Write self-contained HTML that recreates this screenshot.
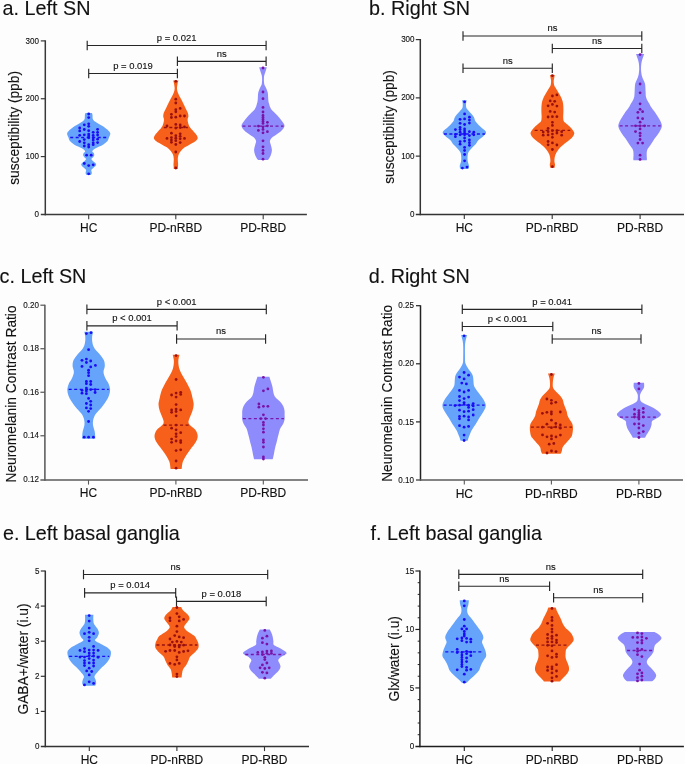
<!DOCTYPE html>
<html><head><meta charset="utf-8"><style>
html,body{margin:0;padding:0;background:#fff;}
body{width:685px;height:764px;overflow:hidden;}
svg{display:block;will-change:transform;}
text{font-family:"Liberation Sans", sans-serif;fill:#111;stroke:#111;stroke-width:0.12px;}
</style></head><body>
<svg width="685" height="764" viewBox="0 0 685 764">
<rect width="685" height="764" fill="#fdfdfd"/>
<text transform="translate(2.6,14.8) scale(0.9650,1)" font-size="20.5" text-anchor="start">a. Left SN</text>
<path d="M45.3,40.3 V215.35" stroke="#383838" stroke-width="1.5" fill="none"/>
<path d="M40.8,214.6 H306.9" stroke="#3a3a3a" stroke-width="1.5" fill="none"/>
<line x1="40.8" y1="40.9" x2="45.3" y2="40.9" stroke="#383838" stroke-width="1.2"/>
<text transform="translate(38.9,43.5) scale(0.8400,1)" font-size="9.6" text-anchor="end">300</text>
<line x1="40.8" y1="98.73" x2="45.3" y2="98.73" stroke="#383838" stroke-width="1.2"/>
<text transform="translate(38.9,101.33) scale(0.8400,1)" font-size="9.6" text-anchor="end">200</text>
<line x1="40.8" y1="156.57" x2="45.3" y2="156.57" stroke="#383838" stroke-width="1.2"/>
<text transform="translate(38.9,159.17) scale(0.8400,1)" font-size="9.6" text-anchor="end">100</text>
<text transform="translate(38.9,217) scale(0.8400,1)" font-size="9.6" text-anchor="end">0</text>
<line x1="88.7" y1="214.6" x2="88.7" y2="219.2" stroke="#3a3a3a" stroke-width="1.1"/>
<text x="88.7" y="231.6" font-size="12" text-anchor="middle">HC</text>
<line x1="175.8" y1="214.6" x2="175.8" y2="219.2" stroke="#3a3a3a" stroke-width="1.1"/>
<text x="175.8" y="231.6" font-size="12" text-anchor="middle">PD-nRBD</text>
<line x1="263.2" y1="214.6" x2="263.2" y2="219.2" stroke="#3a3a3a" stroke-width="1.1"/>
<text x="263.2" y="231.6" font-size="12" text-anchor="middle">PD-RBD</text>
<text transform="translate(19,127.9) rotate(-90) scale(0.9160,1)" font-size="15" text-anchor="middle">susceptibility (ppb)</text>
<path d="M87.2,40.7 V50.3 M87.2,45.5 H266.1 M266.1,40.7 V50.3" stroke="#262626" stroke-width="1.15" fill="none"/>
<text transform="translate(176.65,40.9) scale(0.9840,1)" font-size="9.6" text-anchor="middle">p = 0.021</text>
<path d="M177.4,56.5 V66.1 M177.4,61.3 H266.1 M266.1,56.5 V66.1" stroke="#262626" stroke-width="1.15" fill="none"/>
<text transform="translate(221.75,56.7) scale(0.9840,1)" font-size="9.6" text-anchor="middle">ns</text>
<path d="M88.7,68.7 V78.3 M88.7,73.5 H177.4 M177.4,68.7 V78.3" stroke="#262626" stroke-width="1.15" fill="none"/>
<text transform="translate(133.05,68.9) scale(0.9840,1)" font-size="9.6" text-anchor="middle">p = 0.019</text>
<path d="M85.4,113 L92,113 C92.09,113.38 92.42,114.3 92.55,115.3 C92.68,116.3 92.34,117.93 92.8,119 C93.26,120.07 93.6,120.48 95.3,121.7 C97,122.92 100.77,124.77 103,126.3 C105.23,127.83 107.48,129.67 108.7,130.9 C109.92,132.13 110.25,132.63 110.3,133.7 C110.35,134.77 109.47,136.08 109,137.3 C108.53,138.52 108.5,139.77 107.5,141 C106.5,142.23 104.98,143.48 103,144.7 C101.02,145.92 97.38,147.22 95.6,148.3 C93.82,149.38 92.62,150.42 92.3,151.2 C91.98,151.98 93.37,152.37 93.7,153 C94.03,153.63 94.37,154.33 94.3,155 C94.23,155.67 93.78,156.32 93.3,157 C92.82,157.68 91.47,158.43 91.4,159.1 C91.33,159.77 92.25,160.35 92.9,161 C93.55,161.65 94.75,162.42 95.3,163 C95.85,163.58 96.2,163.95 96.2,164.5 C96.2,165.05 95.88,165.63 95.3,166.3 C94.72,166.97 93.37,167.88 92.7,168.5 C92.03,169.12 91.48,169.45 91.3,170 C91.12,170.55 91.52,171.25 91.6,171.8 C91.68,172.35 91.92,172.78 91.8,173.3 C91.68,173.82 91.05,174.63 90.9,174.9 L86.5,174.9 C86.35,174.63 85.72,173.82 85.6,173.3 C85.48,172.78 85.72,172.35 85.8,171.8 C85.88,171.25 86.28,170.55 86.1,170 C85.92,169.45 85.37,169.12 84.7,168.5 C84.03,167.88 82.68,166.97 82.1,166.3 C81.52,165.63 81.2,165.05 81.2,164.5 C81.2,163.95 81.55,163.58 82.1,163 C82.65,162.42 83.85,161.65 84.5,161 C85.15,160.35 86.07,159.77 86,159.1 C85.93,158.43 84.58,157.68 84.1,157 C83.62,156.32 83.17,155.67 83.1,155 C83.03,154.33 83.37,153.63 83.7,153 C84.03,152.37 85.42,151.98 85.1,151.2 C84.78,150.42 83.58,149.38 81.8,148.3 C80.02,147.22 76.38,145.92 74.4,144.7 C72.42,143.48 70.9,142.23 69.9,141 C68.9,139.77 68.87,138.52 68.4,137.3 C67.93,136.08 67.05,134.77 67.1,133.7 C67.15,132.63 67.48,132.13 68.7,130.9 C69.92,129.67 72.17,127.83 74.4,126.3 C76.63,124.77 80.4,122.92 82.1,121.7 C83.8,120.48 84.14,120.07 84.6,119 C85.06,117.93 84.72,116.3 84.85,115.3 C84.98,114.3 85.31,113.38 85.4,113Z" fill="#66a3fb"/>
<line x1="70.2" y1="137.5" x2="107.2" y2="137.5" stroke="#1a0cf5" stroke-width="1.3" stroke-dasharray="3,2.5"/>
<circle fill="#1a0cf5" cx="88.7" cy="114" r="1.4"/><circle fill="#1a0cf5" cx="88.7" cy="117.6" r="1.4"/><circle fill="#1a0cf5" cx="84.3" cy="124.8" r="1.4"/><circle fill="#1a0cf5" cx="88.7" cy="123.8" r="1.4"/><circle fill="#1a0cf5" cx="88.7" cy="126.3" r="1.4"/><circle fill="#1a0cf5" cx="79.7" cy="128" r="1.4"/><circle fill="#1a0cf5" cx="84.3" cy="129.5" r="1.4"/><circle fill="#1a0cf5" cx="88.7" cy="130.7" r="1.4"/><circle fill="#1a0cf5" cx="97.6" cy="129.3" r="1.4"/><circle fill="#1a0cf5" cx="79.7" cy="130.9" r="1.4"/><circle fill="#1a0cf5" cx="93.2" cy="132.3" r="1.4"/><circle fill="#1a0cf5" cx="97.6" cy="132.3" r="1.4"/><circle fill="#1a0cf5" cx="79.7" cy="135.3" r="1.4"/><circle fill="#1a0cf5" cx="84.3" cy="134.8" r="1.4"/><circle fill="#1a0cf5" cx="88.7" cy="134.1" r="1.4"/><circle fill="#1a0cf5" cx="88.7" cy="136" r="1.4"/><circle fill="#1a0cf5" cx="93.2" cy="135.5" r="1.4"/><circle fill="#1a0cf5" cx="97.6" cy="135" r="1.4"/><circle fill="#1a0cf5" cx="84.3" cy="139.6" r="1.4"/><circle fill="#1a0cf5" cx="88.7" cy="137.8" r="1.4"/><circle fill="#1a0cf5" cx="93.2" cy="137.8" r="1.4"/><circle fill="#1a0cf5" cx="97.6" cy="139.2" r="1.4"/><circle fill="#1a0cf5" cx="79.7" cy="141.5" r="1.4"/><circle fill="#1a0cf5" cx="84.3" cy="142.8" r="1.4"/><circle fill="#1a0cf5" cx="93.2" cy="140.1" r="1.4"/><circle fill="#1a0cf5" cx="93.2" cy="142.8" r="1.4"/><circle fill="#1a0cf5" cx="97.6" cy="142.6" r="1.4"/><circle fill="#1a0cf5" cx="84.3" cy="146" r="1.4"/><circle fill="#1a0cf5" cx="88.7" cy="144.7" r="1.4"/><circle fill="#1a0cf5" cx="88.7" cy="147" r="1.4"/><circle fill="#1a0cf5" cx="93.2" cy="144.7" r="1.4"/><circle fill="#1a0cf5" cx="86.6" cy="155.2" r="1.4"/><circle fill="#1a0cf5" cx="91.2" cy="155.2" r="1.4"/><circle fill="#1a0cf5" cx="84.3" cy="163.5" r="1.4"/><circle fill="#1a0cf5" cx="88.7" cy="165.6" r="1.4"/><circle fill="#1a0cf5" cx="93.2" cy="164.8" r="1.4"/><circle fill="#1a0cf5" cx="88.7" cy="173.8" r="1.4"/>
<path d="M173.2,80.4 L178.4,80.4 C178.27,80.92 177.84,82.13 177.6,83.5 C177.36,84.87 176.93,87.13 176.95,88.6 C176.97,90.07 177.29,91.05 177.7,92.3 C178.11,93.55 178.67,94.63 179.4,96.1 C180.13,97.57 181.13,99.22 182.1,101.1 C183.07,102.98 184.27,105.52 185.2,107.4 C186.13,109.28 187.17,110.93 187.7,112.4 C188.23,113.87 188.42,114.93 188.4,116.2 C188.38,117.47 187.45,118.32 187.6,120 C187.75,121.68 188.33,124.42 189.3,126.3 C190.27,128.18 192.2,129.85 193.4,131.3 C194.6,132.75 195.78,133.85 196.5,135 C197.22,136.15 197.9,137.15 197.7,138.2 C197.5,139.25 196.75,140.15 195.3,141.3 C193.85,142.45 191.1,143.83 189,145.1 C186.9,146.37 184.38,147.43 182.7,148.9 C181.02,150.37 179.72,152.23 178.9,153.9 C178.08,155.57 177.93,157.23 177.8,158.9 C177.67,160.57 178.1,162.22 178.1,163.9 C178.1,165.58 177.85,168.15 177.8,169 L173.8,169 C173.75,168.15 173.5,165.58 173.5,163.9 C173.5,162.22 173.93,160.57 173.8,158.9 C173.67,157.23 173.52,155.57 172.7,153.9 C171.88,152.23 170.58,150.37 168.9,148.9 C167.22,147.43 164.7,146.37 162.6,145.1 C160.5,143.83 157.75,142.45 156.3,141.3 C154.85,140.15 154.1,139.25 153.9,138.2 C153.7,137.15 154.38,136.15 155.1,135 C155.82,133.85 157,132.75 158.2,131.3 C159.4,129.85 161.33,128.18 162.3,126.3 C163.27,124.42 163.85,121.68 164,120 C164.15,118.32 163.22,117.47 163.2,116.2 C163.18,114.93 163.37,113.87 163.9,112.4 C164.43,110.93 165.47,109.28 166.4,107.4 C167.33,105.52 168.53,102.98 169.5,101.1 C170.47,99.22 171.47,97.57 172.2,96.1 C172.93,94.63 173.49,93.55 173.9,92.3 C174.31,91.05 174.63,90.07 174.65,88.6 C174.67,87.13 174.24,84.87 174,83.5 C173.76,82.13 173.33,80.92 173.2,80.4Z" fill="#f7601a"/>
<line x1="163.8" y1="127.5" x2="187.8" y2="127.5" stroke="#981010" stroke-width="1.3" stroke-dasharray="3,2.5"/>
<circle fill="#9a1010" cx="175.8" cy="81.3" r="1.4"/><circle fill="#9a1010" cx="175.8" cy="99.2" r="1.4"/><circle fill="#9a1010" cx="175.8" cy="103" r="1.4"/><circle fill="#9a1010" cx="180.2" cy="108.4" r="1.4"/><circle fill="#9a1010" cx="175.8" cy="109.7" r="1.4"/><circle fill="#9a1010" cx="175.8" cy="111.8" r="1.4"/><circle fill="#9a1010" cx="171.4" cy="114.3" r="1.4"/><circle fill="#9a1010" cx="180.2" cy="116" r="1.4"/><circle fill="#9a1010" cx="184.5" cy="116" r="1.4"/><circle fill="#9a1010" cx="171.4" cy="117.5" r="1.4"/><circle fill="#9a1010" cx="175.8" cy="117.2" r="1.4"/><circle fill="#9a1010" cx="175.8" cy="124.4" r="1.4"/><circle fill="#9a1010" cx="167" cy="126" r="1.4"/><circle fill="#9a1010" cx="180.2" cy="125" r="1.4"/><circle fill="#9a1010" cx="180.2" cy="127.5" r="1.4"/><circle fill="#9a1010" cx="184.5" cy="126.9" r="1.4"/><circle fill="#9a1010" cx="175.8" cy="128.1" r="1.4"/><circle fill="#9a1010" cx="171.4" cy="133.2" r="1.4"/><circle fill="#9a1010" cx="180.2" cy="133.8" r="1.4"/><circle fill="#9a1010" cx="167" cy="138.4" r="1.4"/><circle fill="#9a1010" cx="171.4" cy="137.6" r="1.4"/><circle fill="#9a1010" cx="171.4" cy="140.1" r="1.4"/><circle fill="#9a1010" cx="171.4" cy="142.3" r="1.4"/><circle fill="#9a1010" cx="175.8" cy="135.7" r="1.4"/><circle fill="#9a1010" cx="175.8" cy="138.2" r="1.4"/><circle fill="#9a1010" cx="175.8" cy="140.7" r="1.4"/><circle fill="#9a1010" cx="175.8" cy="144.5" r="1.4"/><circle fill="#9a1010" cx="180.2" cy="136.3" r="1.4"/><circle fill="#9a1010" cx="180.2" cy="138.8" r="1.4"/><circle fill="#9a1010" cx="180.2" cy="142.6" r="1.4"/><circle fill="#9a1010" cx="184.5" cy="138.4" r="1.4"/><circle fill="#9a1010" cx="175.8" cy="152" r="1.4"/><circle fill="#9a1010" cx="175.8" cy="168" r="1.4"/>
<path d="M259.2,67.3 L266.8,67.3 C266.6,67.97 266.03,69.93 265.6,71.3 C265.17,72.67 264.48,74.22 264.2,75.5 C263.92,76.78 263.93,77.92 263.9,79 C263.87,80.08 263.92,81.03 264,82 C264.08,82.97 264.18,84.05 264.4,84.8 C264.62,85.55 264.93,85.77 265.3,86.5 C265.67,87.23 266.18,88.17 266.6,89.2 C267.02,90.23 267.55,91.48 267.8,92.7 C268.05,93.92 268.02,95.28 268.1,96.5 C268.18,97.72 268.15,98.82 268.3,100 C268.45,101.18 268.52,102.07 269,103.6 C269.48,105.13 269.8,107.23 271.2,109.2 C272.6,111.17 275.65,113.48 277.4,115.4 C279.15,117.32 280.52,118.92 281.7,120.7 C282.88,122.48 284.67,124.32 284.5,126.1 C284.33,127.88 282.62,129.62 280.7,131.4 C278.78,133.18 274.78,135.23 273,136.8 C271.22,138.37 270.37,139.47 270,140.8 C269.63,142.13 270.48,143.25 270.8,144.8 C271.12,146.35 271.92,148.32 271.9,150.1 C271.88,151.88 271.35,153.83 270.7,155.5 C270.05,157.17 268.45,159.33 268,160.1 L258,160.1 C257.55,159.33 255.95,157.17 255.3,155.5 C254.65,153.83 254.12,151.88 254.1,150.1 C254.08,148.32 254.88,146.35 255.2,144.8 C255.52,143.25 256.37,142.13 256,140.8 C255.63,139.47 254.78,138.37 253,136.8 C251.22,135.23 247.22,133.18 245.3,131.4 C243.38,129.62 241.67,127.88 241.5,126.1 C241.33,124.32 243.12,122.48 244.3,120.7 C245.48,118.92 246.85,117.32 248.6,115.4 C250.35,113.48 253.4,111.17 254.8,109.2 C256.2,107.23 256.52,105.13 257,103.6 C257.48,102.07 257.55,101.18 257.7,100 C257.85,98.82 257.82,97.72 257.9,96.5 C257.98,95.28 257.95,93.92 258.2,92.7 C258.45,91.48 258.98,90.23 259.4,89.2 C259.82,88.17 260.33,87.23 260.7,86.5 C261.07,85.77 261.38,85.55 261.6,84.8 C261.82,84.05 261.92,82.97 262,82 C262.08,81.03 262.13,80.08 262.1,79 C262.07,77.92 262.08,76.78 261.8,75.5 C261.52,74.22 260.83,72.67 260.4,71.3 C259.97,69.93 259.4,67.97 259.2,67.3Z" fill="#8e8cfc"/>
<line x1="242.5" y1="126.1" x2="283.5" y2="126.1" stroke="#7a14aa" stroke-width="1.3" stroke-dasharray="3,2.5"/>
<circle fill="#7a12a8" cx="263" cy="68" r="1.4"/><circle fill="#7a12a8" cx="263" cy="92" r="1.4"/><circle fill="#7a12a8" cx="263" cy="98.7" r="1.4"/><circle fill="#7a12a8" cx="263" cy="107.4" r="1.4"/><circle fill="#7a12a8" cx="263" cy="112" r="1.4"/><circle fill="#7a12a8" cx="263" cy="115.4" r="1.4"/><circle fill="#7a12a8" cx="263" cy="117.4" r="1.4"/><circle fill="#7a12a8" cx="263" cy="119.4" r="1.4"/><circle fill="#7a12a8" cx="263" cy="121.4" r="1.4"/><circle fill="#7a12a8" cx="263" cy="123.4" r="1.4"/><circle fill="#7a12a8" cx="267.4" cy="122.3" r="1.4"/><circle fill="#7a12a8" cx="258.4" cy="126.1" r="1.4"/><circle fill="#7a12a8" cx="263" cy="126.8" r="1.4"/><circle fill="#7a12a8" cx="267.4" cy="125.8" r="1.4"/><circle fill="#7a12a8" cx="258.4" cy="130.4" r="1.4"/><circle fill="#7a12a8" cx="263" cy="129.4" r="1.4"/><circle fill="#7a12a8" cx="263" cy="132.8" r="1.4"/><circle fill="#7a12a8" cx="267.4" cy="131.7" r="1.4"/><circle fill="#7a12a8" cx="263" cy="140.8" r="1.4"/><circle fill="#7a12a8" cx="263" cy="146.8" r="1.4"/><circle fill="#7a12a8" cx="263" cy="150.4" r="1.4"/><circle fill="#7a12a8" cx="263" cy="153.5" r="1.4"/><circle fill="#7a12a8" cx="263" cy="159.2" r="1.4"/>
<text transform="translate(369,14.8) scale(0.9650,1)" font-size="20.5" text-anchor="start">b. Right SN</text>
<path d="M420.3,39 V215.25" stroke="#333" stroke-width="1.5" fill="none"/>
<path d="M415.8,214.5 H684" stroke="#333" stroke-width="1.5" fill="none"/>
<line x1="415.8" y1="39.6" x2="420.3" y2="39.6" stroke="#333" stroke-width="1.2"/>
<text transform="translate(414.6,42.2) scale(0.8400,1)" font-size="9.6" text-anchor="end">300</text>
<line x1="415.8" y1="97.87" x2="420.3" y2="97.87" stroke="#333" stroke-width="1.2"/>
<text transform="translate(414.6,100.47) scale(0.8400,1)" font-size="9.6" text-anchor="end">200</text>
<line x1="415.8" y1="156.13" x2="420.3" y2="156.13" stroke="#333" stroke-width="1.2"/>
<text transform="translate(414.6,158.73) scale(0.8400,1)" font-size="9.6" text-anchor="end">100</text>
<text transform="translate(414.6,217) scale(0.8400,1)" font-size="9.6" text-anchor="end">0</text>
<line x1="464.3" y1="214.5" x2="464.3" y2="219.1" stroke="#333" stroke-width="1.1"/>
<text x="464.3" y="231.6" font-size="12" text-anchor="middle">HC</text>
<line x1="552.2" y1="214.5" x2="552.2" y2="219.1" stroke="#333" stroke-width="1.1"/>
<text x="552.2" y="231.6" font-size="12" text-anchor="middle">PD-nRBD</text>
<line x1="640.1" y1="214.5" x2="640.1" y2="219.1" stroke="#333" stroke-width="1.1"/>
<text x="640.1" y="231.6" font-size="12" text-anchor="middle">PD-RBD</text>
<text transform="translate(394,127) rotate(-90) scale(0.9160,1)" font-size="15" text-anchor="middle">susceptibility (ppb)</text>
<path d="M463,31.2 V40.8 M463,36 H641.8 M641.8,31.2 V40.8" stroke="#262626" stroke-width="1.15" fill="none"/>
<text transform="translate(552.4,31.4) scale(0.9840,1)" font-size="9.6" text-anchor="middle">ns</text>
<path d="M552.3,43.7 V53.3 M552.3,48.5 H641.8 M641.8,43.7 V53.3" stroke="#262626" stroke-width="1.15" fill="none"/>
<text transform="translate(597.05,43.9) scale(0.9840,1)" font-size="9.6" text-anchor="middle">ns</text>
<path d="M463,63.4 V73 M463,68.2 H552.3 M552.3,63.4 V73" stroke="#262626" stroke-width="1.15" fill="none"/>
<text transform="translate(507.65,63.6) scale(0.9840,1)" font-size="9.6" text-anchor="middle">ns</text>
<path d="M462.1,100.2 L466.7,100.2 C466.58,100.9 466,103 466,104.4 C466,105.8 465.97,107.2 466.7,108.6 C467.43,110 469.22,111.4 470.4,112.8 C471.58,114.2 472.97,115.6 473.8,117 C474.63,118.4 474.52,119.8 475.4,121.2 C476.28,122.6 477.7,124 479.1,125.4 C480.5,126.8 482.63,128.38 483.8,129.6 C484.97,130.82 486.13,131.65 486.1,132.7 C486.07,133.75 484.85,134.68 483.6,135.9 C482.35,137.12 479.93,138.62 478.6,140 C477.27,141.38 476.8,142.8 475.6,144.2 C474.4,145.6 472.62,147 471.4,148.4 C470.18,149.8 468.95,151.02 468.3,152.6 C467.65,154.18 467.57,156.32 467.5,157.9 C467.43,159.48 467.63,160.72 467.9,162.1 C468.17,163.48 469.02,165.07 469.1,166.2 C469.18,167.33 468.52,168.45 468.4,168.9 L460.4,168.9 C460.28,168.45 459.62,167.33 459.7,166.2 C459.78,165.07 460.63,163.48 460.9,162.1 C461.17,160.72 461.37,159.48 461.3,157.9 C461.23,156.32 461.15,154.18 460.5,152.6 C459.85,151.02 458.62,149.8 457.4,148.4 C456.18,147 454.4,145.6 453.2,144.2 C452,142.8 451.53,141.38 450.2,140 C448.87,138.62 446.45,137.12 445.2,135.9 C443.95,134.68 442.73,133.75 442.7,132.7 C442.67,131.65 443.83,130.82 445,129.6 C446.17,128.38 448.3,126.8 449.7,125.4 C451.1,124 452.52,122.6 453.4,121.2 C454.28,119.8 454.17,118.4 455,117 C455.83,115.6 457.22,114.2 458.4,112.8 C459.58,111.4 461.37,110 462.1,108.6 C462.83,107.2 462.8,105.8 462.8,104.4 C462.8,103 462.22,100.9 462.1,100.2Z" fill="#66a3fb"/>
<line x1="443.9" y1="134" x2="484.9" y2="134" stroke="#1a0cf5" stroke-width="1.3" stroke-dasharray="3,2.5"/>
<circle fill="#1a0cf5" cx="464.6" cy="101.8" r="1.4"/><circle fill="#1a0cf5" cx="464.6" cy="113.9" r="1.4"/><circle fill="#1a0cf5" cx="460.1" cy="119.3" r="1.4"/><circle fill="#1a0cf5" cx="464.6" cy="118.9" r="1.4"/><circle fill="#1a0cf5" cx="469.4" cy="117.2" r="1.4"/><circle fill="#1a0cf5" cx="469.4" cy="120.1" r="1.4"/><circle fill="#1a0cf5" cx="469.4" cy="123.1" r="1.4"/><circle fill="#1a0cf5" cx="460.1" cy="123.3" r="1.4"/><circle fill="#1a0cf5" cx="464.6" cy="124.5" r="1.4"/><circle fill="#1a0cf5" cx="455.4" cy="129.6" r="1.4"/><circle fill="#1a0cf5" cx="460.1" cy="127.5" r="1.4"/><circle fill="#1a0cf5" cx="460.1" cy="129.6" r="1.4"/><circle fill="#1a0cf5" cx="464.6" cy="129" r="1.4"/><circle fill="#1a0cf5" cx="464.6" cy="131.1" r="1.4"/><circle fill="#1a0cf5" cx="455.4" cy="134.3" r="1.4"/><circle fill="#1a0cf5" cx="455.4" cy="136.7" r="1.4"/><circle fill="#1a0cf5" cx="460.1" cy="132.2" r="1.4"/><circle fill="#1a0cf5" cx="460.1" cy="134.8" r="1.4"/><circle fill="#1a0cf5" cx="464.6" cy="133.2" r="1.4"/><circle fill="#1a0cf5" cx="464.6" cy="134.8" r="1.4"/><circle fill="#1a0cf5" cx="469.4" cy="131.7" r="1.4"/><circle fill="#1a0cf5" cx="469.4" cy="135.6" r="1.4"/><circle fill="#1a0cf5" cx="473.8" cy="132.2" r="1.4"/><circle fill="#1a0cf5" cx="473.8" cy="134.8" r="1.4"/><circle fill="#1a0cf5" cx="464.6" cy="138" r="1.4"/><circle fill="#1a0cf5" cx="464.6" cy="141.1" r="1.4"/><circle fill="#1a0cf5" cx="460.1" cy="141.6" r="1.4"/><circle fill="#1a0cf5" cx="460.1" cy="144.2" r="1.4"/><circle fill="#1a0cf5" cx="469.4" cy="140" r="1.4"/><circle fill="#1a0cf5" cx="469.4" cy="142.7" r="1.4"/><circle fill="#1a0cf5" cx="469.4" cy="145.3" r="1.4"/><circle fill="#1a0cf5" cx="464.6" cy="147.4" r="1.4"/><circle fill="#1a0cf5" cx="464.6" cy="150.5" r="1.4"/><circle fill="#1a0cf5" cx="464.6" cy="154.5" r="1.4"/><circle fill="#1a0cf5" cx="464.6" cy="160.8" r="1.4"/><circle fill="#1a0cf5" cx="462.4" cy="168.1" r="1.4"/><circle fill="#1a0cf5" cx="467" cy="167.1" r="1.4"/>
<path d="M550,75 L554.8,75 C554.7,75.5 554.38,77.03 554.2,78 C554.02,78.97 553.75,79.8 553.7,80.8 C553.65,81.8 553.73,83.03 553.9,84 C554.07,84.97 554.2,85.6 554.7,86.6 C555.2,87.6 556.13,88.78 556.9,90 C557.67,91.22 558.58,92.67 559.3,93.9 C560.02,95.13 560.65,96.18 561.2,97.4 C561.75,98.62 562.27,99.97 562.6,101.2 C562.93,102.43 563.07,103.58 563.2,104.8 C563.33,106.02 563.37,107.3 563.4,108.5 C563.43,109.7 563.43,110.78 563.4,112 C563.37,113.22 563.22,114.63 563.2,115.8 C563.18,116.97 563.17,118.03 563.3,119 C563.43,119.97 563.38,120.72 564,121.6 C564.62,122.48 566.02,123.43 567,124.3 C567.98,125.17 568.83,125.68 569.9,126.8 C570.97,127.92 572.68,129.83 573.4,131 C574.12,132.17 574.48,132.63 574.2,133.8 C573.92,134.97 573.28,136.37 571.7,138 C570.12,139.63 566.87,141.73 564.7,143.6 C562.53,145.47 560.25,147.33 558.7,149.2 C557.15,151.07 556.12,152.93 555.4,154.8 C554.68,156.67 554.47,158.77 554.4,160.4 C554.33,162.03 554.97,163.38 555,164.6 C555.03,165.82 554.67,167.18 554.6,167.7 L550.2,167.7 C550.13,167.18 549.77,165.82 549.8,164.6 C549.83,163.38 550.47,162.03 550.4,160.4 C550.33,158.77 550.12,156.67 549.4,154.8 C548.68,152.93 547.65,151.07 546.1,149.2 C544.55,147.33 542.27,145.47 540.1,143.6 C537.93,141.73 534.68,139.63 533.1,138 C531.52,136.37 530.88,134.97 530.6,133.8 C530.32,132.63 530.68,132.17 531.4,131 C532.12,129.83 533.83,127.92 534.9,126.8 C535.97,125.68 536.82,125.17 537.8,124.3 C538.78,123.43 540.18,122.48 540.8,121.6 C541.42,120.72 541.37,119.97 541.5,119 C541.63,118.03 541.62,116.97 541.6,115.8 C541.58,114.63 541.43,113.22 541.4,112 C541.37,110.78 541.37,109.7 541.4,108.5 C541.43,107.3 541.47,106.02 541.6,104.8 C541.73,103.58 541.87,102.43 542.2,101.2 C542.53,99.97 543.05,98.62 543.6,97.4 C544.15,96.18 544.78,95.13 545.5,93.9 C546.22,92.67 547.13,91.22 547.9,90 C548.67,88.78 549.6,87.6 550.1,86.6 C550.6,85.6 550.73,84.97 550.9,84 C551.07,83.03 551.15,81.8 551.1,80.8 C551.05,79.8 550.78,78.97 550.6,78 C550.42,77.03 550.1,75.5 550,75Z" fill="#f7601a"/>
<line x1="534.6" y1="130.3" x2="570.2" y2="130.3" stroke="#981010" stroke-width="1.3" stroke-dasharray="3,2.5"/>
<circle fill="#9a1010" cx="552.4" cy="75.7" r="1.4"/><circle fill="#9a1010" cx="552.4" cy="96" r="1.4"/><circle fill="#9a1010" cx="556.9" cy="94.9" r="1.4"/><circle fill="#9a1010" cx="550.2" cy="100.9" r="1.4"/><circle fill="#9a1010" cx="554.7" cy="101.3" r="1.4"/><circle fill="#9a1010" cx="552.4" cy="104.4" r="1.4"/><circle fill="#9a1010" cx="548.1" cy="105.8" r="1.4"/><circle fill="#9a1010" cx="556.9" cy="106.1" r="1.4"/><circle fill="#9a1010" cx="550.2" cy="111.4" r="1.4"/><circle fill="#9a1010" cx="554.7" cy="112.1" r="1.4"/><circle fill="#9a1010" cx="548.1" cy="117" r="1.4"/><circle fill="#9a1010" cx="552.4" cy="116.7" r="1.4"/><circle fill="#9a1010" cx="556.9" cy="116.7" r="1.4"/><circle fill="#9a1010" cx="552.4" cy="122.3" r="1.4"/><circle fill="#9a1010" cx="552.4" cy="125.4" r="1.4"/><circle fill="#9a1010" cx="548.1" cy="128.5" r="1.4"/><circle fill="#9a1010" cx="543.2" cy="132.1" r="1.4"/><circle fill="#9a1010" cx="543.2" cy="135.2" r="1.4"/><circle fill="#9a1010" cx="548.1" cy="131.7" r="1.4"/><circle fill="#9a1010" cx="548.1" cy="134.9" r="1.4"/><circle fill="#9a1010" cx="552.4" cy="130.7" r="1.4"/><circle fill="#9a1010" cx="552.4" cy="134.1" r="1.4"/><circle fill="#9a1010" cx="556.9" cy="130.7" r="1.4"/><circle fill="#9a1010" cx="556.9" cy="133.1" r="1.4"/><circle fill="#9a1010" cx="561.7" cy="131.7" r="1.4"/><circle fill="#9a1010" cx="561.7" cy="135.2" r="1.4"/><circle fill="#9a1010" cx="552.4" cy="137.3" r="1.4"/><circle fill="#9a1010" cx="548.1" cy="141.5" r="1.4"/><circle fill="#9a1010" cx="548.1" cy="144.8" r="1.4"/><circle fill="#9a1010" cx="552.4" cy="142.9" r="1.4"/><circle fill="#9a1010" cx="556.9" cy="145" r="1.4"/><circle fill="#9a1010" cx="552.4" cy="149.5" r="1.4"/><circle fill="#9a1010" cx="552.4" cy="166.7" r="1.4"/>
<path d="M636,53.9 L644.2,53.9 C643.93,54.68 643.07,57.08 642.6,58.6 C642.13,60.12 641.67,61.35 641.4,63 C641.13,64.65 641.02,66.88 641,68.5 C640.98,70.12 641.15,71.45 641.3,72.7 C641.45,73.95 641.62,74.95 641.9,76 C642.18,77.05 642.58,78 643,79 C643.42,80 644.03,81 644.4,82 C644.77,83 645,83.32 645.2,85 C645.4,86.68 645.48,90.18 645.6,92.1 C645.72,94.02 645.65,95.18 645.9,96.5 C646.15,97.82 646.55,98.83 647.1,100 C647.65,101.17 648.5,102.28 649.2,103.5 C649.9,104.72 650.2,105.63 651.3,107.3 C652.4,108.97 654.4,111.42 655.8,113.5 C657.2,115.58 658.68,117.7 659.7,119.8 C660.72,121.9 662,124 661.9,126.1 C661.8,128.2 660.33,130.3 659.1,132.4 C657.87,134.5 655.93,136.6 654.5,138.7 C653.07,140.8 651.7,143.17 650.5,145 C649.3,146.83 647.93,148.13 647.3,149.7 C646.67,151.27 646.77,152.83 646.7,154.4 C646.63,155.97 646.9,158.12 646.9,159.1 C646.9,160.08 646.73,160.1 646.7,160.3 L633.5,160.3 C633.47,160.1 633.3,160.08 633.3,159.1 C633.3,158.12 633.57,155.97 633.5,154.4 C633.43,152.83 633.53,151.27 632.9,149.7 C632.27,148.13 630.9,146.83 629.7,145 C628.5,143.17 627.13,140.8 625.7,138.7 C624.27,136.6 622.33,134.5 621.1,132.4 C619.87,130.3 618.4,128.2 618.3,126.1 C618.2,124 619.48,121.9 620.5,119.8 C621.52,117.7 623,115.58 624.4,113.5 C625.8,111.42 627.8,108.97 628.9,107.3 C630,105.63 630.3,104.72 631,103.5 C631.7,102.28 632.55,101.17 633.1,100 C633.65,98.83 634.05,97.82 634.3,96.5 C634.55,95.18 634.48,94.02 634.6,92.1 C634.72,90.18 634.8,86.68 635,85 C635.2,83.32 635.43,83 635.8,82 C636.17,81 636.78,80 637.2,79 C637.62,78 638.02,77.05 638.3,76 C638.58,74.95 638.75,73.95 638.9,72.7 C639.05,71.45 639.22,70.12 639.2,68.5 C639.18,66.88 639.07,64.65 638.8,63 C638.53,61.35 638.07,60.12 637.6,58.6 C637.13,57.08 636.27,54.68 636,53.9Z" fill="#8e8cfc"/>
<line x1="619.6" y1="125.8" x2="660.6" y2="125.8" stroke="#7a14aa" stroke-width="1.3" stroke-dasharray="3,2.5"/>
<circle fill="#7a12a8" cx="640.1" cy="54.6" r="1.4"/><circle fill="#7a12a8" cx="640.1" cy="84" r="1.4"/><circle fill="#7a12a8" cx="640.1" cy="92.8" r="1.4"/><circle fill="#7a12a8" cx="640.1" cy="103.8" r="1.4"/><circle fill="#7a12a8" cx="640.1" cy="109.3" r="1.4"/><circle fill="#7a12a8" cx="637.9" cy="112.3" r="1.4"/><circle fill="#7a12a8" cx="642.6" cy="111.7" r="1.4"/><circle fill="#7a12a8" cx="637.9" cy="117.9" r="1.4"/><circle fill="#7a12a8" cx="642.6" cy="118.7" r="1.4"/><circle fill="#7a12a8" cx="640.1" cy="122.2" r="1.4"/><circle fill="#7a12a8" cx="635.5" cy="125.8" r="1.4"/><circle fill="#7a12a8" cx="640.1" cy="125.8" r="1.4"/><circle fill="#7a12a8" cx="644.6" cy="125.8" r="1.4"/><circle fill="#7a12a8" cx="640.1" cy="128.9" r="1.4"/><circle fill="#7a12a8" cx="635.5" cy="131.6" r="1.4"/><circle fill="#7a12a8" cx="640.1" cy="133.2" r="1.4"/><circle fill="#7a12a8" cx="640.1" cy="135.8" r="1.4"/><circle fill="#7a12a8" cx="640.1" cy="139.5" r="1.4"/><circle fill="#7a12a8" cx="637.9" cy="143.1" r="1.4"/><circle fill="#7a12a8" cx="642.6" cy="143.1" r="1.4"/><circle fill="#7a12a8" cx="640.1" cy="155.2" r="1.4"/><circle fill="#7a12a8" cx="640.1" cy="159.4" r="1.4"/>
<text transform="translate(-0.4,282.9) scale(0.9650,1)" font-size="20.5" text-anchor="start">c. Left SN</text>
<path d="M44.9,304.8 V480.75" stroke="#555" stroke-width="1.5" fill="none"/>
<path d="M40.4,480 H308" stroke="#5a5a5a" stroke-width="1.5" fill="none"/>
<line x1="40.4" y1="305.2" x2="44.9" y2="305.2" stroke="#555" stroke-width="1.2"/>
<text transform="translate(38.9,307.8) scale(0.8400,1)" font-size="9.6" text-anchor="end">0.20</text>
<line x1="40.4" y1="348.73" x2="44.9" y2="348.73" stroke="#555" stroke-width="1.2"/>
<text transform="translate(38.9,351.33) scale(0.8400,1)" font-size="9.6" text-anchor="end">0.18</text>
<line x1="40.4" y1="392.25" x2="44.9" y2="392.25" stroke="#555" stroke-width="1.2"/>
<text transform="translate(38.9,394.85) scale(0.8400,1)" font-size="9.6" text-anchor="end">0.16</text>
<line x1="40.4" y1="435.77" x2="44.9" y2="435.77" stroke="#555" stroke-width="1.2"/>
<text transform="translate(38.9,438.38) scale(0.8400,1)" font-size="9.6" text-anchor="end">0.14</text>
<text transform="translate(38.9,481.9) scale(0.8400,1)" font-size="9.6" text-anchor="end">0.12</text>
<line x1="88.5" y1="480" x2="88.5" y2="484.6" stroke="#5a5a5a" stroke-width="1.1"/>
<text x="88.5" y="497" font-size="12" text-anchor="middle">HC</text>
<line x1="175.9" y1="480" x2="175.9" y2="484.6" stroke="#5a5a5a" stroke-width="1.1"/>
<text x="175.9" y="497" font-size="12" text-anchor="middle">PD-nRBD</text>
<line x1="263.3" y1="480" x2="263.3" y2="484.6" stroke="#5a5a5a" stroke-width="1.1"/>
<text x="263.3" y="497" font-size="12" text-anchor="middle">PD-RBD</text>
<text transform="translate(16.2,394) rotate(-90) scale(0.9160,1)" font-size="15" text-anchor="middle">Neuromelanin Contrast Ratio</text>
<path d="M86.9,304.6 V314.2 M86.9,309.4 H266.3 M266.3,304.6 V314.2" stroke="#262626" stroke-width="1.15" fill="none"/>
<text transform="translate(176.6,304.8) scale(0.9840,1)" font-size="9.6" text-anchor="middle">p &lt; 0.001</text>
<path d="M86.9,321 V330.6 M86.9,325.8 H177.1 M177.1,321 V330.6" stroke="#262626" stroke-width="1.15" fill="none"/>
<text transform="translate(132,321.2) scale(0.9840,1)" font-size="9.6" text-anchor="middle">p &lt; 0.001</text>
<path d="M176.6,334.2 V343.8 M176.6,339 H265.6 M265.6,334.2 V343.8" stroke="#262626" stroke-width="1.15" fill="none"/>
<text transform="translate(221.1,334.4) scale(0.9840,1)" font-size="9.6" text-anchor="middle">ns</text>
<path d="M84.3,331.7 L93.1,331.7 C92.93,332.55 92.22,334.97 92.1,336.8 C91.98,338.63 91.98,340.75 92.4,342.7 C92.82,344.65 93.35,346.55 94.6,348.5 C95.85,350.45 98.35,352.43 99.9,354.4 C101.45,356.37 103.08,358.35 103.9,360.3 C104.72,362.25 104.87,364.15 104.8,366.1 C104.73,368.05 103.42,370.03 103.5,372 C103.58,373.97 104.45,375.95 105.3,377.9 C106.15,379.85 107.8,381.75 108.6,383.7 C109.4,385.65 110.03,387.65 110.1,389.6 C110.17,391.55 109.68,393.45 109,395.4 C108.32,397.35 107.22,399.33 106,401.3 C104.78,403.27 103.28,405.25 101.7,407.2 C100.12,409.15 97.77,411.38 96.5,413 C95.23,414.62 94.67,415.65 94.1,416.9 C93.53,418.15 93.3,419.28 93.1,420.5 C92.9,421.72 92.8,422.95 92.9,424.2 C93,425.45 93.4,426.78 93.7,428 C94,429.22 94.45,430.08 94.7,431.5 C94.95,432.92 95.12,435.3 95.2,436.5 C95.28,437.7 95.2,438.33 95.2,438.7 L82.2,438.7 C82.2,438.33 82.12,437.7 82.2,436.5 C82.28,435.3 82.45,432.92 82.7,431.5 C82.95,430.08 83.4,429.22 83.7,428 C84,426.78 84.4,425.45 84.5,424.2 C84.6,422.95 84.5,421.72 84.3,420.5 C84.1,419.28 83.87,418.15 83.3,416.9 C82.73,415.65 82.17,414.62 80.9,413 C79.63,411.38 77.28,409.15 75.7,407.2 C74.12,405.25 72.62,403.27 71.4,401.3 C70.18,399.33 69.08,397.35 68.4,395.4 C67.72,393.45 67.23,391.55 67.3,389.6 C67.37,387.65 68,385.65 68.8,383.7 C69.6,381.75 71.25,379.85 72.1,377.9 C72.95,375.95 73.82,373.97 73.9,372 C73.98,370.03 72.67,368.05 72.6,366.1 C72.53,364.15 72.68,362.25 73.5,360.3 C74.32,358.35 75.95,356.37 77.5,354.4 C79.05,352.43 81.55,350.45 82.8,348.5 C84.05,346.55 84.58,344.65 85,342.7 C85.42,340.75 85.42,338.63 85.3,336.8 C85.18,334.97 84.47,332.55 84.3,331.7Z" fill="#66a3fb"/>
<line x1="68.7" y1="389.3" x2="108.7" y2="389.3" stroke="#1a0cf5" stroke-width="1.3" stroke-dasharray="3,2.5"/>
<circle fill="#1a0cf5" cx="86.4" cy="333.6" r="1.4"/><circle fill="#1a0cf5" cx="91" cy="332.7" r="1.4"/><circle fill="#1a0cf5" cx="88.6" cy="349.7" r="1.4"/><circle fill="#1a0cf5" cx="82" cy="360.3" r="1.4"/><circle fill="#1a0cf5" cx="86.4" cy="359.1" r="1.4"/><circle fill="#1a0cf5" cx="86.4" cy="362.5" r="1.4"/><circle fill="#1a0cf5" cx="90.7" cy="361" r="1.4"/><circle fill="#1a0cf5" cx="82" cy="366.4" r="1.4"/><circle fill="#1a0cf5" cx="90.7" cy="366.9" r="1.4"/><circle fill="#1a0cf5" cx="95.4" cy="365.4" r="1.4"/><circle fill="#1a0cf5" cx="88.6" cy="370.2" r="1.4"/><circle fill="#1a0cf5" cx="88.6" cy="372.7" r="1.4"/><circle fill="#1a0cf5" cx="88.6" cy="375.7" r="1.4"/><circle fill="#1a0cf5" cx="86.4" cy="381.5" r="1.4"/><circle fill="#1a0cf5" cx="90.7" cy="381.5" r="1.4"/><circle fill="#1a0cf5" cx="86.4" cy="383.7" r="1.4"/><circle fill="#1a0cf5" cx="90.7" cy="384.5" r="1.4"/><circle fill="#1a0cf5" cx="82" cy="390.3" r="1.4"/><circle fill="#1a0cf5" cx="82" cy="393.2" r="1.4"/><circle fill="#1a0cf5" cx="86.4" cy="388.1" r="1.4"/><circle fill="#1a0cf5" cx="86.4" cy="391" r="1.4"/><circle fill="#1a0cf5" cx="86.4" cy="393.7" r="1.4"/><circle fill="#1a0cf5" cx="90.7" cy="389.6" r="1.4"/><circle fill="#1a0cf5" cx="95.1" cy="389.6" r="1.4"/><circle fill="#1a0cf5" cx="95.1" cy="392.5" r="1.4"/><circle fill="#1a0cf5" cx="88.6" cy="398.4" r="1.4"/><circle fill="#1a0cf5" cx="86.4" cy="403.5" r="1.4"/><circle fill="#1a0cf5" cx="90.7" cy="401.3" r="1.4"/><circle fill="#1a0cf5" cx="90.7" cy="405" r="1.4"/><circle fill="#1a0cf5" cx="86.4" cy="407.9" r="1.4"/><circle fill="#1a0cf5" cx="90.7" cy="408.6" r="1.4"/><circle fill="#1a0cf5" cx="88.6" cy="411.3" r="1.4"/><circle fill="#1a0cf5" cx="88.6" cy="421.5" r="1.4"/><circle fill="#1a0cf5" cx="84.2" cy="437.2" r="1.4"/><circle fill="#1a0cf5" cx="88.6" cy="437.2" r="1.4"/><circle fill="#1a0cf5" cx="93.4" cy="437.2" r="1.4"/>
<path d="M172.7,354.8 L179.5,354.8 C179.3,355.87 178.3,358.8 178.3,361.2 C178.3,363.6 178.65,366.55 179.5,369.2 C180.35,371.85 182,374.45 183.4,377.1 C184.8,379.75 186.65,382.7 187.9,385.1 C189.15,387.5 190.13,389.37 190.9,391.5 C191.67,393.63 192.03,395.77 192.5,397.9 C192.97,400.03 193.7,402.17 193.7,404.3 C193.7,406.43 193.12,408.57 192.5,410.7 C191.88,412.83 190.63,414.97 190,417.1 C189.37,419.23 187.82,421.38 188.7,423.5 C189.58,425.62 193.8,427.68 195.3,429.8 C196.8,431.92 197.67,434.07 197.7,436.2 C197.73,438.33 196.67,440.47 195.5,442.6 C194.33,444.73 192.27,446.87 190.7,449 C189.13,451.13 187.42,453.27 186.1,455.4 C184.78,457.53 183.53,459.67 182.8,461.8 C182.07,463.93 181.92,467 181.7,468.2 C181.48,469.4 181.53,468.87 181.5,469 L170.7,469 C170.67,468.87 170.72,469.4 170.5,468.2 C170.28,467 170.13,463.93 169.4,461.8 C168.67,459.67 167.42,457.53 166.1,455.4 C164.78,453.27 163.07,451.13 161.5,449 C159.93,446.87 157.87,444.73 156.7,442.6 C155.53,440.47 154.47,438.33 154.5,436.2 C154.53,434.07 155.4,431.92 156.9,429.8 C158.4,427.68 162.62,425.62 163.5,423.5 C164.38,421.38 162.83,419.23 162.2,417.1 C161.57,414.97 160.32,412.83 159.7,410.7 C159.08,408.57 158.5,406.43 158.5,404.3 C158.5,402.17 159.23,400.03 159.7,397.9 C160.17,395.77 160.53,393.63 161.3,391.5 C162.07,389.37 163.05,387.5 164.3,385.1 C165.55,382.7 167.4,379.75 168.8,377.1 C170.2,374.45 171.85,371.85 172.7,369.2 C173.55,366.55 173.9,363.6 173.9,361.2 C173.9,358.8 172.9,355.87 172.7,354.8Z" fill="#f7601a"/>
<line x1="163.6" y1="425.1" x2="188.6" y2="425.1" stroke="#981010" stroke-width="1.3" stroke-dasharray="3,2.5"/>
<circle fill="#9a1010" cx="176.1" cy="355.6" r="1.4"/><circle fill="#9a1010" cx="176.1" cy="379.5" r="1.4"/><circle fill="#9a1010" cx="171.6" cy="395" r="1.4"/><circle fill="#9a1010" cx="176.1" cy="393.1" r="1.4"/><circle fill="#9a1010" cx="176.1" cy="397.1" r="1.4"/><circle fill="#9a1010" cx="180.7" cy="392.3" r="1.4"/><circle fill="#9a1010" cx="180.7" cy="394.4" r="1.4"/><circle fill="#9a1010" cx="176.1" cy="404.6" r="1.4"/><circle fill="#9a1010" cx="171.6" cy="409.9" r="1.4"/><circle fill="#9a1010" cx="171.6" cy="412.3" r="1.4"/><circle fill="#9a1010" cx="176.1" cy="409.1" r="1.4"/><circle fill="#9a1010" cx="176.1" cy="411.5" r="1.4"/><circle fill="#9a1010" cx="180.7" cy="409.9" r="1.4"/><circle fill="#9a1010" cx="176.1" cy="415.8" r="1.4"/><circle fill="#9a1010" cx="176.1" cy="425.1" r="1.4"/><circle fill="#9a1010" cx="171.6" cy="428.2" r="1.4"/><circle fill="#9a1010" cx="176.1" cy="429.8" r="1.4"/><circle fill="#9a1010" cx="180.7" cy="432.7" r="1.4"/><circle fill="#9a1010" cx="176.1" cy="433.8" r="1.4"/><circle fill="#9a1010" cx="176.1" cy="436.6" r="1.4"/><circle fill="#9a1010" cx="171.6" cy="439.1" r="1.4"/><circle fill="#9a1010" cx="171.6" cy="442.3" r="1.4"/><circle fill="#9a1010" cx="176.1" cy="441" r="1.4"/><circle fill="#9a1010" cx="180.7" cy="440.7" r="1.4"/><circle fill="#9a1010" cx="180.7" cy="442.6" r="1.4"/><circle fill="#9a1010" cx="176.1" cy="450.6" r="1.4"/><circle fill="#9a1010" cx="180.7" cy="449.8" r="1.4"/><circle fill="#9a1010" cx="176.1" cy="461" r="1.4"/><circle fill="#9a1010" cx="176.1" cy="468.2" r="1.4"/>
<path d="M257.4,376.8 L269.4,376.8 C269.63,377.55 270.28,379.62 270.8,381.3 C271.32,382.98 272.07,385.03 272.5,386.9 C272.93,388.77 272.95,390.82 273.4,392.5 C273.85,394.18 274.1,395.5 275.2,397 C276.3,398.5 278.67,400 280,401.5 C281.33,403 282.45,404.5 283.2,406 C283.95,407.5 284.27,409 284.5,410.5 C284.73,412 284.58,413.5 284.6,415 C284.62,416.5 284.85,417.98 284.6,419.5 C284.35,421.02 283.82,422.58 283.1,424.1 C282.38,425.62 281.05,426.92 280.3,428.6 C279.55,430.28 279.07,432.55 278.6,434.2 C278.13,435.85 277.85,437.08 277.5,438.5 C277.15,439.92 276.87,441.3 276.5,442.7 C276.13,444.1 275.65,445.48 275.3,446.9 C274.95,448.32 274.68,449.78 274.4,451.2 C274.12,452.62 273.88,454.07 273.6,455.4 C273.32,456.73 272.85,458.57 272.7,459.2 L254.1,459.2 C253.95,458.57 253.48,456.73 253.2,455.4 C252.92,454.07 252.68,452.62 252.4,451.2 C252.12,449.78 251.85,448.32 251.5,446.9 C251.15,445.48 250.67,444.1 250.3,442.7 C249.93,441.3 249.65,439.92 249.3,438.5 C248.95,437.08 248.67,435.85 248.2,434.2 C247.73,432.55 247.25,430.28 246.5,428.6 C245.75,426.92 244.42,425.62 243.7,424.1 C242.98,422.58 242.45,421.02 242.2,419.5 C241.95,417.98 242.18,416.5 242.2,415 C242.22,413.5 242.07,412 242.3,410.5 C242.53,409 242.85,407.5 243.6,406 C244.35,404.5 245.47,403 246.8,401.5 C248.13,400 250.5,398.5 251.6,397 C252.7,395.5 252.95,394.18 253.4,392.5 C253.85,390.82 253.87,388.77 254.3,386.9 C254.73,385.03 255.48,382.98 256,381.3 C256.52,379.62 257.17,377.55 257.4,376.8Z" fill="#8e8cfc"/>
<line x1="242.9" y1="418.6" x2="283.9" y2="418.6" stroke="#7a14aa" stroke-width="1.3" stroke-dasharray="3,2.5"/>
<circle fill="#7a12a8" cx="263.4" cy="377.3" r="1.4"/><circle fill="#7a12a8" cx="263.4" cy="390.8" r="1.4"/><circle fill="#7a12a8" cx="267.9" cy="388.9" r="1.4"/><circle fill="#7a12a8" cx="258.9" cy="404" r="1.4"/><circle fill="#7a12a8" cx="258.9" cy="407.2" r="1.4"/><circle fill="#7a12a8" cx="263.4" cy="406.3" r="1.4"/><circle fill="#7a12a8" cx="267.9" cy="406.3" r="1.4"/><circle fill="#7a12a8" cx="263.4" cy="414.8" r="1.4"/><circle fill="#7a12a8" cx="260.8" cy="418.6" r="1.4"/><circle fill="#7a12a8" cx="265.5" cy="418.6" r="1.4"/><circle fill="#7a12a8" cx="263.4" cy="422.4" r="1.4"/><circle fill="#7a12a8" cx="263.4" cy="425" r="1.4"/><circle fill="#7a12a8" cx="263.4" cy="428.8" r="1.4"/><circle fill="#7a12a8" cx="263.4" cy="432.2" r="1.4"/><circle fill="#7a12a8" cx="263.4" cy="440" r="1.4"/><circle fill="#7a12a8" cx="263.4" cy="442.3" r="1.4"/><circle fill="#7a12a8" cx="263.4" cy="447" r="1.4"/><circle fill="#7a12a8" cx="263.4" cy="456.9" r="1.4"/><circle fill="#7a12a8" cx="263.4" cy="459" r="1.4"/>
<text transform="translate(368.7,282.9) scale(0.9650,1)" font-size="20.5" text-anchor="start">d. Right SN</text>
<path d="M420.5,305.3 V480.75" stroke="#222" stroke-width="1.5" fill="none"/>
<path d="M416,480 H683" stroke="#5a5a5a" stroke-width="1.5" fill="none"/>
<line x1="416" y1="305.7" x2="420.5" y2="305.7" stroke="#222" stroke-width="1.2"/>
<text transform="translate(413.9,308.3) scale(0.8400,1)" font-size="9.6" text-anchor="end">0.25</text>
<line x1="416" y1="363.8" x2="420.5" y2="363.8" stroke="#222" stroke-width="1.2"/>
<text transform="translate(413.9,366.4) scale(0.8400,1)" font-size="9.6" text-anchor="end">0.20</text>
<line x1="416" y1="421.9" x2="420.5" y2="421.9" stroke="#222" stroke-width="1.2"/>
<text transform="translate(413.9,424.5) scale(0.8400,1)" font-size="9.6" text-anchor="end">0.15</text>
<text transform="translate(413.9,482.6) scale(0.8400,1)" font-size="9.6" text-anchor="end">0.10</text>
<line x1="464.3" y1="480" x2="464.3" y2="484.6" stroke="#5a5a5a" stroke-width="1.1"/>
<text x="464.3" y="497.5" font-size="12" text-anchor="middle">HC</text>
<line x1="551.4" y1="480" x2="551.4" y2="484.6" stroke="#5a5a5a" stroke-width="1.1"/>
<text x="551.4" y="497.5" font-size="12" text-anchor="middle">PD-nRBD</text>
<line x1="638.9" y1="480" x2="638.9" y2="484.6" stroke="#5a5a5a" stroke-width="1.1"/>
<text x="638.9" y="497.5" font-size="12" text-anchor="middle">PD-RBD</text>
<text transform="translate(392.1,393.3) rotate(-90) scale(0.9160,1)" font-size="15" text-anchor="middle">Neuromelanin Contrast Ratio</text>
<path d="M462.3,304.5 V314.1 M462.3,309.3 H641.9 M641.9,304.5 V314.1" stroke="#262626" stroke-width="1.15" fill="none"/>
<text transform="translate(552.1,304.7) scale(0.9840,1)" font-size="9.6" text-anchor="middle">p = 0.041</text>
<path d="M462.3,321.7 V331.3 M462.3,326.5 H552.8 M552.8,321.7 V331.3" stroke="#262626" stroke-width="1.15" fill="none"/>
<text transform="translate(507.55,321.9) scale(0.9840,1)" font-size="9.6" text-anchor="middle">p &lt; 0.001</text>
<path d="M552.2,334.2 V343.8 M552.2,339 H641 M641,334.2 V343.8" stroke="#262626" stroke-width="1.15" fill="none"/>
<text transform="translate(596.6,334.4) scale(0.9840,1)" font-size="9.6" text-anchor="middle">ns</text>
<path d="M461.2,334.9 L467,334.9 C466.9,335.33 466.63,336.55 466.4,337.5 C466.17,338.45 465.82,339.52 465.6,340.6 C465.38,341.68 465.21,342.73 465.1,344 C464.99,345.27 464.98,346.7 464.95,348.2 C464.93,349.7 464.94,351.48 464.95,353 C464.96,354.52 464.98,355.9 465,357.3 C465.02,358.7 465.02,360.38 465.1,361.4 C465.18,362.42 465.28,362.72 465.5,363.4 C465.72,364.08 466.03,364.78 466.4,365.5 C466.77,366.22 467.03,366.68 467.7,367.7 C468.37,368.72 469.63,370.47 470.4,371.6 C471.17,372.73 471.85,373.58 472.3,374.5 C472.75,375.42 472.9,375.92 473.1,377.1 C473.3,378.28 473.38,380.28 473.5,381.6 C473.62,382.92 473.5,383.9 473.8,385 C474.1,386.1 474.38,386.73 475.3,388.2 C476.22,389.67 477.92,391.87 479.3,393.8 C480.68,395.73 482.52,397.78 483.6,399.8 C484.68,401.82 485.87,403.87 485.8,405.9 C485.73,407.93 484.28,409.97 483.2,412 C482.12,414.03 480.53,416.08 479.3,418.1 C478.07,420.12 477.07,422.08 475.8,424.1 C474.53,426.12 472.82,428.17 471.7,430.2 C470.58,432.23 469.78,434.53 469.1,436.3 C468.42,438.07 467.85,440.05 467.6,440.8 L460.6,440.8 C460.35,440.05 459.78,438.07 459.1,436.3 C458.42,434.53 457.62,432.23 456.5,430.2 C455.38,428.17 453.67,426.12 452.4,424.1 C451.13,422.08 450.13,420.12 448.9,418.1 C447.67,416.08 446.08,414.03 445,412 C443.92,409.97 442.47,407.93 442.4,405.9 C442.33,403.87 443.52,401.82 444.6,399.8 C445.68,397.78 447.52,395.73 448.9,393.8 C450.28,391.87 451.98,389.67 452.9,388.2 C453.82,386.73 454.1,386.1 454.4,385 C454.7,383.9 454.58,382.92 454.7,381.6 C454.82,380.28 454.9,378.28 455.1,377.1 C455.3,375.92 455.45,375.42 455.9,374.5 C456.35,373.58 457.03,372.73 457.8,371.6 C458.57,370.47 459.83,368.72 460.5,367.7 C461.17,366.68 461.43,366.22 461.8,365.5 C462.17,364.78 462.48,364.08 462.7,363.4 C462.92,362.72 463.02,362.42 463.1,361.4 C463.18,360.38 463.18,358.7 463.2,357.3 C463.23,355.9 463.24,354.52 463.25,353 C463.26,351.48 463.27,349.7 463.25,348.2 C463.23,346.7 463.21,345.27 463.1,344 C462.99,342.73 462.82,341.68 462.6,340.6 C462.38,339.52 462.03,338.45 461.8,337.5 C461.57,336.55 461.3,335.33 461.2,334.9Z" fill="#66a3fb"/>
<line x1="443.6" y1="405.2" x2="484.6" y2="405.2" stroke="#1a0cf5" stroke-width="1.3" stroke-dasharray="3,2.5"/>
<circle fill="#1a0cf5" cx="464.1" cy="335.8" r="1.4"/><circle fill="#1a0cf5" cx="464.1" cy="372.5" r="1.4"/><circle fill="#1a0cf5" cx="459.5" cy="377.1" r="1.4"/><circle fill="#1a0cf5" cx="468.6" cy="375.2" r="1.4"/><circle fill="#1a0cf5" cx="464.1" cy="378.9" r="1.4"/><circle fill="#1a0cf5" cx="461.8" cy="383.1" r="1.4"/><circle fill="#1a0cf5" cx="466.4" cy="383.9" r="1.4"/><circle fill="#1a0cf5" cx="459.5" cy="390.4" r="1.4"/><circle fill="#1a0cf5" cx="464.1" cy="392" r="1.4"/><circle fill="#1a0cf5" cx="468.6" cy="390.4" r="1.4"/><circle fill="#1a0cf5" cx="459.5" cy="396.5" r="1.4"/><circle fill="#1a0cf5" cx="464.1" cy="398.6" r="1.4"/><circle fill="#1a0cf5" cx="468.6" cy="397.1" r="1.4"/><circle fill="#1a0cf5" cx="459.5" cy="400.6" r="1.4"/><circle fill="#1a0cf5" cx="464.1" cy="402.6" r="1.4"/><circle fill="#1a0cf5" cx="455" cy="405.6" r="1.4"/><circle fill="#1a0cf5" cx="459.5" cy="405.2" r="1.4"/><circle fill="#1a0cf5" cx="468.6" cy="405.2" r="1.4"/><circle fill="#1a0cf5" cx="468.6" cy="407.4" r="1.4"/><circle fill="#1a0cf5" cx="473.2" cy="403.6" r="1.4"/><circle fill="#1a0cf5" cx="473.2" cy="405.9" r="1.4"/><circle fill="#1a0cf5" cx="473.2" cy="409.7" r="1.4"/><circle fill="#1a0cf5" cx="464.1" cy="404.4" r="1.4"/><circle fill="#1a0cf5" cx="459.5" cy="410.2" r="1.4"/><circle fill="#1a0cf5" cx="464.1" cy="411.7" r="1.4"/><circle fill="#1a0cf5" cx="468.6" cy="411.2" r="1.4"/><circle fill="#1a0cf5" cx="473.2" cy="415" r="1.4"/><circle fill="#1a0cf5" cx="459.5" cy="416.5" r="1.4"/><circle fill="#1a0cf5" cx="459.5" cy="418.8" r="1.4"/><circle fill="#1a0cf5" cx="464.1" cy="416.2" r="1.4"/><circle fill="#1a0cf5" cx="468.6" cy="416.9" r="1.4"/><circle fill="#1a0cf5" cx="468.6" cy="419.9" r="1.4"/><circle fill="#1a0cf5" cx="459.5" cy="425.7" r="1.4"/><circle fill="#1a0cf5" cx="464.1" cy="427.2" r="1.4"/><circle fill="#1a0cf5" cx="468.6" cy="426.4" r="1.4"/><circle fill="#1a0cf5" cx="464.1" cy="435.1" r="1.4"/><circle fill="#1a0cf5" cx="464.1" cy="440.5" r="1.4"/>
<path d="M548,373.5 L554.8,373.5 C554.57,374.25 553.73,376.43 553.4,378 C553.07,379.57 552.83,381.25 552.8,382.9 C552.77,384.55 552.6,386.4 553.2,387.9 C553.8,389.4 555.2,390.57 556.4,391.9 C557.6,393.23 559.33,394.58 560.4,395.9 C561.47,397.22 562.23,398.48 562.8,399.8 C563.37,401.12 563.38,402.47 563.8,403.8 C564.22,405.13 564.8,406.47 565.3,407.8 C565.8,409.13 566.42,410.47 566.8,411.8 C567.18,413.13 567.1,414.48 567.6,415.8 C568.1,417.12 569.02,418.38 569.8,419.7 C570.58,421.02 571.77,422.37 572.3,423.7 C572.83,425.03 572.93,426.37 573,427.7 C573.07,429.03 572.88,430.37 572.7,431.7 C572.52,433.03 572.35,434.57 571.9,435.7 C571.45,436.83 570.92,437.33 570,438.5 C569.08,439.67 567.6,441.3 566.4,442.7 C565.2,444.1 563.57,445.48 562.8,446.9 C562.03,448.32 562.15,450.07 561.8,451.2 C561.45,452.33 560.88,453.28 560.7,453.7 L542.1,453.7 C541.92,453.28 541.35,452.33 541,451.2 C540.65,450.07 540.77,448.32 540,446.9 C539.23,445.48 537.6,444.1 536.4,442.7 C535.2,441.3 533.72,439.67 532.8,438.5 C531.88,437.33 531.35,436.83 530.9,435.7 C530.45,434.57 530.28,433.03 530.1,431.7 C529.92,430.37 529.73,429.03 529.8,427.7 C529.87,426.37 529.97,425.03 530.5,423.7 C531.03,422.37 532.22,421.02 533,419.7 C533.78,418.38 534.7,417.12 535.2,415.8 C535.7,414.48 535.62,413.13 536,411.8 C536.38,410.47 537,409.13 537.5,407.8 C538,406.47 538.58,405.13 539,403.8 C539.42,402.47 539.43,401.12 540,399.8 C540.57,398.48 541.33,397.22 542.4,395.9 C543.47,394.58 545.2,393.23 546.4,391.9 C547.6,390.57 549,389.4 549.6,387.9 C550.2,386.4 550.03,384.55 550,382.9 C549.97,381.25 549.73,379.57 549.4,378 C549.07,376.43 548.23,374.25 548,373.5Z" fill="#f7601a"/>
<line x1="530.9" y1="427.2" x2="571.9" y2="427.2" stroke="#981010" stroke-width="1.3" stroke-dasharray="3,2.5"/>
<circle fill="#9a1010" cx="551.4" cy="374.5" r="1.4"/><circle fill="#9a1010" cx="546.9" cy="399" r="1.4"/><circle fill="#9a1010" cx="551.4" cy="400.3" r="1.4"/><circle fill="#9a1010" cx="551.4" cy="403.3" r="1.4"/><circle fill="#9a1010" cx="555.8" cy="402.3" r="1.4"/><circle fill="#9a1010" cx="542.4" cy="413.3" r="1.4"/><circle fill="#9a1010" cx="546.9" cy="412.3" r="1.4"/><circle fill="#9a1010" cx="551.4" cy="411.8" r="1.4"/><circle fill="#9a1010" cx="551.4" cy="414" r="1.4"/><circle fill="#9a1010" cx="560.3" cy="412" r="1.4"/><circle fill="#9a1010" cx="551.4" cy="420.2" r="1.4"/><circle fill="#9a1010" cx="546.9" cy="424.2" r="1.4"/><circle fill="#9a1010" cx="555.8" cy="423.5" r="1.4"/><circle fill="#9a1010" cx="560.3" cy="424.9" r="1.4"/><circle fill="#9a1010" cx="542.4" cy="427.2" r="1.4"/><circle fill="#9a1010" cx="551.4" cy="427.7" r="1.4"/><circle fill="#9a1010" cx="555.8" cy="426.9" r="1.4"/><circle fill="#9a1010" cx="560.3" cy="428.2" r="1.4"/><circle fill="#9a1010" cx="542.5" cy="434.9" r="1.4"/><circle fill="#9a1010" cx="547" cy="436.8" r="1.4"/><circle fill="#9a1010" cx="551.5" cy="435.9" r="1.4"/><circle fill="#9a1010" cx="551.5" cy="438.9" r="1.4"/><circle fill="#9a1010" cx="556" cy="436.9" r="1.4"/><circle fill="#9a1010" cx="560.4" cy="435.1" r="1.4"/><circle fill="#9a1010" cx="549.2" cy="444.2" r="1.4"/><circle fill="#9a1010" cx="553.8" cy="443.5" r="1.4"/><circle fill="#9a1010" cx="547" cy="453" r="1.4"/><circle fill="#9a1010" cx="551.5" cy="451" r="1.4"/><circle fill="#9a1010" cx="556" cy="451.6" r="1.4"/>
<path d="M633.8,382.8 L644,382.8 C644.02,383.48 644.4,385.6 644.1,386.9 C643.8,388.2 642.85,389.38 642.2,390.6 C641.55,391.82 640.57,392.98 640.2,394.2 C639.83,395.42 639.85,396.67 640,397.9 C640.15,399.13 640.18,400.53 641.1,401.6 C642.02,402.67 643.42,403.23 645.5,404.3 C647.58,405.37 651.38,406.77 653.6,408 C655.82,409.23 657.58,410.63 658.8,411.7 C660.02,412.77 660.93,413.48 660.9,414.4 C660.87,415.32 660.02,416.13 658.6,417.2 C657.18,418.27 653.57,419.58 652.4,420.8 C651.23,422.02 651.92,423.27 651.6,424.5 C651.28,425.73 651.02,426.98 650.5,428.2 C649.98,429.42 649.22,430.58 648.5,431.8 C647.78,433.02 646.8,434.5 646.2,435.5 C645.6,436.5 645.12,437.42 644.9,437.8 L632.9,437.8 C632.68,437.42 632.2,436.5 631.6,435.5 C631,434.5 630.02,433.02 629.3,431.8 C628.58,430.58 627.82,429.42 627.3,428.2 C626.78,426.98 626.52,425.73 626.2,424.5 C625.88,423.27 626.57,422.02 625.4,420.8 C624.23,419.58 620.62,418.27 619.2,417.2 C617.78,416.13 616.93,415.32 616.9,414.4 C616.87,413.48 617.78,412.77 619,411.7 C620.22,410.63 621.98,409.23 624.2,408 C626.42,406.77 630.22,405.37 632.3,404.3 C634.38,403.23 635.78,402.67 636.7,401.6 C637.62,400.53 637.65,399.13 637.8,397.9 C637.95,396.67 637.97,395.42 637.6,394.2 C637.23,392.98 636.25,391.82 635.6,390.6 C634.95,389.38 634,388.2 633.7,386.9 C633.4,385.6 633.78,383.48 633.8,382.8Z" fill="#8e8cfc"/>
<line x1="619.9" y1="417.2" x2="657.9" y2="417.2" stroke="#7a14aa" stroke-width="1.3" stroke-dasharray="3,2.5"/>
<circle fill="#7a12a8" cx="638.9" cy="383.4" r="1.4"/><circle fill="#7a12a8" cx="638.9" cy="388.9" r="1.4"/><circle fill="#7a12a8" cx="634.5" cy="409.4" r="1.4"/><circle fill="#7a12a8" cx="638.9" cy="410.6" r="1.4"/><circle fill="#7a12a8" cx="643.3" cy="408.5" r="1.4"/><circle fill="#7a12a8" cx="643.3" cy="412.4" r="1.4"/><circle fill="#7a12a8" cx="634.5" cy="414.2" r="1.4"/><circle fill="#7a12a8" cx="638.9" cy="412.6" r="1.4"/><circle fill="#7a12a8" cx="638.9" cy="414.4" r="1.4"/><circle fill="#7a12a8" cx="638.9" cy="416.1" r="1.4"/><circle fill="#7a12a8" cx="634.5" cy="417" r="1.4"/><circle fill="#7a12a8" cx="638.9" cy="417.6" r="1.4"/><circle fill="#7a12a8" cx="638.9" cy="419" r="1.4"/><circle fill="#7a12a8" cx="643.3" cy="417" r="1.4"/><circle fill="#7a12a8" cx="634.5" cy="424" r="1.4"/><circle fill="#7a12a8" cx="638.9" cy="423.8" r="1.4"/><circle fill="#7a12a8" cx="643.3" cy="425.6" r="1.4"/><circle fill="#7a12a8" cx="638.9" cy="428" r="1.4"/><circle fill="#7a12a8" cx="643.3" cy="431.6" r="1.4"/><circle fill="#7a12a8" cx="638.9" cy="433.2" r="1.4"/><circle fill="#7a12a8" cx="638.9" cy="437.5" r="1.4"/>
<text transform="translate(2.9,540.1) scale(0.9650,1)" font-size="20.5" text-anchor="start">e. Left basal ganglia</text>
<path d="M45.3,570.6 V747.25" stroke="#333" stroke-width="1.5" fill="none"/>
<path d="M40.8,746.5 H309" stroke="#333" stroke-width="1.5" fill="none"/>
<line x1="40.8" y1="571" x2="45.3" y2="571" stroke="#333" stroke-width="1.2"/>
<text transform="translate(39.4,573.6) scale(0.8400,1)" font-size="9.6" text-anchor="end">5</text>
<line x1="40.8" y1="606.1" x2="45.3" y2="606.1" stroke="#333" stroke-width="1.2"/>
<text transform="translate(39.4,608.7) scale(0.8400,1)" font-size="9.6" text-anchor="end">4</text>
<line x1="40.8" y1="641.2" x2="45.3" y2="641.2" stroke="#333" stroke-width="1.2"/>
<text transform="translate(39.4,643.8) scale(0.8400,1)" font-size="9.6" text-anchor="end">3</text>
<line x1="40.8" y1="676.3" x2="45.3" y2="676.3" stroke="#333" stroke-width="1.2"/>
<text transform="translate(39.4,678.9) scale(0.8400,1)" font-size="9.6" text-anchor="end">2</text>
<line x1="40.8" y1="711.4" x2="45.3" y2="711.4" stroke="#333" stroke-width="1.2"/>
<text transform="translate(39.4,714) scale(0.8400,1)" font-size="9.6" text-anchor="end">1</text>
<text transform="translate(39.4,749.1) scale(0.8400,1)" font-size="9.6" text-anchor="end">0</text>
<line x1="89.3" y1="746.5" x2="89.3" y2="751.1" stroke="#333" stroke-width="1.1"/>
<text x="89.3" y="764.2" font-size="12" text-anchor="middle">HC</text>
<line x1="176.9" y1="746.5" x2="176.9" y2="751.1" stroke="#333" stroke-width="1.1"/>
<text x="176.9" y="764.2" font-size="12" text-anchor="middle">PD-nRBD</text>
<line x1="264.5" y1="746.5" x2="264.5" y2="751.1" stroke="#333" stroke-width="1.1"/>
<text x="264.5" y="764.2" font-size="12" text-anchor="middle">PD-RBD</text>
<text transform="translate(28.2,659) rotate(-90) scale(0.9160,1)" font-size="15" text-anchor="middle">GABA+/water (i.u)</text>
<path d="M83.5,569.7 V579.3 M83.5,574.5 H267.7 M267.7,569.7 V579.3" stroke="#262626" stroke-width="1.15" fill="none"/>
<text transform="translate(175.6,569.9) scale(0.9840,1)" font-size="9.6" text-anchor="middle">ns</text>
<path d="M84.6,588.1 V597.7 M84.6,592.9 H175.7 M175.7,588.1 V597.7" stroke="#262626" stroke-width="1.15" fill="none"/>
<text transform="translate(130.15,588.3) scale(0.9840,1)" font-size="9.6" text-anchor="middle">p = 0.014</text>
<path d="M176.5,596.6 V606.2 M176.5,601.4 H266.2 M266.2,596.6 V606.2" stroke="#262626" stroke-width="1.15" fill="none"/>
<text transform="translate(221.35,596.8) scale(0.9840,1)" font-size="9.6" text-anchor="middle">p = 0.018</text>
<path d="M85,614.8 L93.4,614.8 C93.38,615.58 93.2,617.98 93.3,619.5 C93.4,621.02 93.33,622.42 94,623.9 C94.67,625.38 96.48,626.92 97.3,628.4 C98.12,629.88 98.9,631.32 98.9,632.8 C98.9,634.28 97.95,636 97.3,637.3 C96.65,638.6 94.4,639.5 95,640.6 C95.6,641.7 98.9,642.78 100.9,643.9 C102.9,645.02 105.42,646.18 107,647.3 C108.58,648.42 109.75,649.48 110.4,650.6 C111.05,651.72 111.03,652.7 110.9,654 C110.77,655.3 110.33,656.92 109.6,658.4 C108.87,659.88 107.77,661.42 106.5,662.9 C105.23,664.38 103.45,665.82 102,667.3 C100.55,668.78 99.05,670.32 97.8,671.8 C96.55,673.28 94.88,674.92 94.5,676.2 C94.12,677.48 95.22,678.38 95.5,679.5 C95.78,680.62 96.25,681.87 96.2,682.9 C96.15,683.93 95.37,685.23 95.2,685.7 L83.2,685.7 C83.03,685.23 82.25,683.93 82.2,682.9 C82.15,681.87 82.62,680.62 82.9,679.5 C83.18,678.38 84.28,677.48 83.9,676.2 C83.52,674.92 81.85,673.28 80.6,671.8 C79.35,670.32 77.85,668.78 76.4,667.3 C74.95,665.82 73.17,664.38 71.9,662.9 C70.63,661.42 69.53,659.88 68.8,658.4 C68.07,656.92 67.63,655.3 67.5,654 C67.37,652.7 67.35,651.72 68,650.6 C68.65,649.48 69.82,648.42 71.4,647.3 C72.98,646.18 75.5,645.02 77.5,643.9 C79.5,642.78 82.8,641.7 83.4,640.6 C84,639.5 81.75,638.6 81.1,637.3 C80.45,636 79.5,634.28 79.5,632.8 C79.5,631.32 80.28,629.88 81.1,628.4 C81.92,626.92 83.73,625.38 84.4,623.9 C85.07,622.42 85,621.02 85.1,619.5 C85.2,617.98 85.02,615.58 85,614.8Z" fill="#66a3fb"/>
<line x1="69.2" y1="656.4" x2="109.2" y2="656.4" stroke="#1a0cf5" stroke-width="1.3" stroke-dasharray="3,2.5"/>
<circle fill="#1a0cf5" cx="89.2" cy="615.6" r="1.4"/><circle fill="#1a0cf5" cx="89.2" cy="621.1" r="1.4"/><circle fill="#1a0cf5" cx="89.2" cy="628.1" r="1.4"/><circle fill="#1a0cf5" cx="84.5" cy="633.7" r="1.4"/><circle fill="#1a0cf5" cx="89.2" cy="632.3" r="1.4"/><circle fill="#1a0cf5" cx="93.6" cy="633.7" r="1.4"/><circle fill="#1a0cf5" cx="89.2" cy="637.3" r="1.4"/><circle fill="#1a0cf5" cx="89.2" cy="640.8" r="1.4"/><circle fill="#1a0cf5" cx="93.6" cy="646.4" r="1.4"/><circle fill="#1a0cf5" cx="80" cy="650.4" r="1.4"/><circle fill="#1a0cf5" cx="84.5" cy="648.6" r="1.4"/><circle fill="#1a0cf5" cx="84.5" cy="651.7" r="1.4"/><circle fill="#1a0cf5" cx="89.2" cy="650.1" r="1.4"/><circle fill="#1a0cf5" cx="89.2" cy="653.1" r="1.4"/><circle fill="#1a0cf5" cx="93.6" cy="650.1" r="1.4"/><circle fill="#1a0cf5" cx="93.6" cy="653.1" r="1.4"/><circle fill="#1a0cf5" cx="98.1" cy="650.4" r="1.4"/><circle fill="#1a0cf5" cx="80" cy="657.1" r="1.4"/><circle fill="#1a0cf5" cx="84.5" cy="657.1" r="1.4"/><circle fill="#1a0cf5" cx="89.2" cy="655.6" r="1.4"/><circle fill="#1a0cf5" cx="89.2" cy="658.6" r="1.4"/><circle fill="#1a0cf5" cx="93.6" cy="656" r="1.4"/><circle fill="#1a0cf5" cx="98.1" cy="657.3" r="1.4"/><circle fill="#1a0cf5" cx="84.5" cy="660.6" r="1.4"/><circle fill="#1a0cf5" cx="84.5" cy="663.1" r="1.4"/><circle fill="#1a0cf5" cx="84.5" cy="665.6" r="1.4"/><circle fill="#1a0cf5" cx="89.2" cy="662.9" r="1.4"/><circle fill="#1a0cf5" cx="93.6" cy="660.1" r="1.4"/><circle fill="#1a0cf5" cx="93.6" cy="662.9" r="1.4"/><circle fill="#1a0cf5" cx="93.6" cy="666" r="1.4"/><circle fill="#1a0cf5" cx="89.2" cy="668.2" r="1.4"/><circle fill="#1a0cf5" cx="86.7" cy="670.9" r="1.4"/><circle fill="#1a0cf5" cx="91.7" cy="671.5" r="1.4"/><circle fill="#1a0cf5" cx="89.2" cy="674.9" r="1.4"/><circle fill="#1a0cf5" cx="89.2" cy="681.8" r="1.4"/><circle fill="#1a0cf5" cx="84.5" cy="684.9" r="1.4"/><circle fill="#1a0cf5" cx="93.6" cy="683.4" r="1.4"/>
<path d="M172.7,607.1 L181.1,607.1 C181.45,607.67 182.07,609.23 183.2,610.5 C184.33,611.77 186.85,613.32 187.9,614.7 C188.95,616.08 189.72,617.42 189.5,618.8 C189.28,620.18 187.5,621.6 186.6,623 C185.7,624.4 183.92,625.8 184.1,627.2 C184.28,628.6 186.05,630 187.7,631.4 C189.35,632.8 192.48,634.2 194,635.6 C195.52,637 196.05,638.4 196.8,639.8 C197.55,641.2 198.27,642.6 198.5,644 C198.73,645.4 198.83,646.8 198.2,648.2 C197.57,649.6 196.02,651.02 194.7,652.4 C193.38,653.78 191.35,655.12 190.3,656.5 C189.25,657.88 189.07,659.3 188.4,660.7 C187.73,662.1 187.17,663.5 186.3,664.9 C185.43,666.3 183.9,667.7 183.2,669.1 C182.5,670.5 182.37,671.9 182.1,673.3 C181.83,674.7 181.68,676.8 181.6,677.5 L172.2,677.5 C172.12,676.8 171.97,674.7 171.7,673.3 C171.43,671.9 171.3,670.5 170.6,669.1 C169.9,667.7 168.37,666.3 167.5,664.9 C166.63,663.5 166.07,662.1 165.4,660.7 C164.73,659.3 164.55,657.88 163.5,656.5 C162.45,655.12 160.42,653.78 159.1,652.4 C157.78,651.02 156.23,649.6 155.6,648.2 C154.97,646.8 155.07,645.4 155.3,644 C155.53,642.6 156.25,641.2 157,639.8 C157.75,638.4 158.28,637 159.8,635.6 C161.32,634.2 164.45,632.8 166.1,631.4 C167.75,630 169.52,628.6 169.7,627.2 C169.88,625.8 168.1,624.4 167.2,623 C166.3,621.6 164.52,620.18 164.3,618.8 C164.08,617.42 164.85,616.08 165.9,614.7 C166.95,613.32 169.47,611.77 170.6,610.5 C171.73,609.23 172.35,607.67 172.7,607.1Z" fill="#f7601a"/>
<line x1="156.4" y1="645" x2="197.4" y2="645" stroke="#981010" stroke-width="1.3" stroke-dasharray="3,2.5"/>
<circle fill="#9a1010" cx="176.9" cy="607.5" r="1.4"/><circle fill="#9a1010" cx="176.9" cy="613.6" r="1.4"/><circle fill="#9a1010" cx="179.2" cy="616.8" r="1.4"/><circle fill="#9a1010" cx="170" cy="618" r="1.4"/><circle fill="#9a1010" cx="170" cy="620.7" r="1.4"/><circle fill="#9a1010" cx="179.2" cy="620.9" r="1.4"/><circle fill="#9a1010" cx="183.6" cy="619.4" r="1.4"/><circle fill="#9a1010" cx="176.9" cy="626.2" r="1.4"/><circle fill="#9a1010" cx="176.9" cy="631.6" r="1.4"/><circle fill="#9a1010" cx="174.7" cy="635.6" r="1.4"/><circle fill="#9a1010" cx="179.2" cy="636.9" r="1.4"/><circle fill="#9a1010" cx="183.6" cy="637.7" r="1.4"/><circle fill="#9a1010" cx="170" cy="639" r="1.4"/><circle fill="#9a1010" cx="172.3" cy="642.1" r="1.4"/><circle fill="#9a1010" cx="176.9" cy="641.4" r="1.4"/><circle fill="#9a1010" cx="181.3" cy="642.1" r="1.4"/><circle fill="#9a1010" cx="170" cy="645" r="1.4"/><circle fill="#9a1010" cx="174.7" cy="645.5" r="1.4"/><circle fill="#9a1010" cx="179.2" cy="645.5" r="1.4"/><circle fill="#9a1010" cx="183.6" cy="645.2" r="1.4"/><circle fill="#9a1010" cx="174.7" cy="646.6" r="1.4"/><circle fill="#9a1010" cx="179.2" cy="646.9" r="1.4"/><circle fill="#9a1010" cx="165.6" cy="651.3" r="1.4"/><circle fill="#9a1010" cx="170" cy="650.5" r="1.4"/><circle fill="#9a1010" cx="174.7" cy="650.5" r="1.4"/><circle fill="#9a1010" cx="179.2" cy="652.4" r="1.4"/><circle fill="#9a1010" cx="183.6" cy="651.5" r="1.4"/><circle fill="#9a1010" cx="188" cy="650.8" r="1.4"/><circle fill="#9a1010" cx="176.9" cy="656.8" r="1.4"/><circle fill="#9a1010" cx="176.9" cy="659.9" r="1.4"/><circle fill="#9a1010" cx="170" cy="663.4" r="1.4"/><circle fill="#9a1010" cx="174.7" cy="664.4" r="1.4"/><circle fill="#9a1010" cx="179.2" cy="663.4" r="1.4"/><circle fill="#9a1010" cx="176.9" cy="674.1" r="1.4"/><circle fill="#9a1010" cx="176.9" cy="676.6" r="1.4"/>
<path d="M259.9,629.5 L269.7,629.5 C270,630.07 270.98,631.62 271.5,632.9 C272.02,634.18 272.48,635.78 272.8,637.2 C273.12,638.62 273.25,640.13 273.4,641.4 C273.55,642.67 272.92,643.82 273.7,644.8 C274.48,645.78 276.55,646.45 278.1,647.3 C279.65,648.15 281.57,648.9 283,649.9 C284.43,650.9 286.92,652.18 286.7,653.3 C286.48,654.42 283.1,655.48 281.7,656.6 C280.3,657.72 278.65,658.87 278.3,660 C277.95,661.13 279.23,662.27 279.6,663.4 C279.97,664.53 280.6,665.67 280.5,666.8 C280.4,667.93 279.78,669.07 279,670.2 C278.22,671.33 276.9,672.47 275.8,673.6 C274.7,674.73 273.23,676.15 272.4,677 C271.57,677.85 271.07,678.42 270.8,678.7 L258.8,678.7 C258.53,678.42 258.03,677.85 257.2,677 C256.37,676.15 254.9,674.73 253.8,673.6 C252.7,672.47 251.38,671.33 250.6,670.2 C249.82,669.07 249.2,667.93 249.1,666.8 C249,665.67 249.63,664.53 250,663.4 C250.37,662.27 251.65,661.13 251.3,660 C250.95,658.87 249.3,657.72 247.9,656.6 C246.5,655.48 243.12,654.42 242.9,653.3 C242.68,652.18 245.17,650.9 246.6,649.9 C248.03,648.9 249.95,648.15 251.5,647.3 C253.05,646.45 255.12,645.78 255.9,644.8 C256.68,643.82 256.05,642.67 256.2,641.4 C256.35,640.13 256.48,638.62 256.8,637.2 C257.12,635.78 257.58,634.18 258.1,632.9 C258.62,631.62 259.6,630.07 259.9,629.5Z" fill="#8e8cfc"/>
<line x1="245.3" y1="654.5" x2="284.3" y2="654.5" stroke="#7a14aa" stroke-width="1.3" stroke-dasharray="3,2.5"/>
<circle fill="#7a12a8" cx="264.8" cy="630.4" r="1.4"/><circle fill="#7a12a8" cx="266.9" cy="636.2" r="1.4"/><circle fill="#7a12a8" cx="262.4" cy="638.2" r="1.4"/><circle fill="#7a12a8" cx="262.4" cy="642.7" r="1.4"/><circle fill="#7a12a8" cx="266.9" cy="644.1" r="1.4"/><circle fill="#7a12a8" cx="257.8" cy="652.4" r="1.4"/><circle fill="#7a12a8" cx="262.4" cy="652" r="1.4"/><circle fill="#7a12a8" cx="262.4" cy="654.5" r="1.4"/><circle fill="#7a12a8" cx="266.9" cy="651.1" r="1.4"/><circle fill="#7a12a8" cx="266.9" cy="653.3" r="1.4"/><circle fill="#7a12a8" cx="271.4" cy="650.9" r="1.4"/><circle fill="#7a12a8" cx="271.4" cy="653.3" r="1.4"/><circle fill="#7a12a8" cx="264.8" cy="657.3" r="1.4"/><circle fill="#7a12a8" cx="264.8" cy="659.6" r="1.4"/><circle fill="#7a12a8" cx="266.9" cy="663" r="1.4"/><circle fill="#7a12a8" cx="262.4" cy="664.9" r="1.4"/><circle fill="#7a12a8" cx="260.1" cy="667.8" r="1.4"/><circle fill="#7a12a8" cx="264.8" cy="668.5" r="1.4"/><circle fill="#7a12a8" cx="269.2" cy="667.8" r="1.4"/><circle fill="#7a12a8" cx="262.4" cy="672.3" r="1.4"/><circle fill="#7a12a8" cx="266.9" cy="672.9" r="1.4"/><circle fill="#7a12a8" cx="264.8" cy="678.2" r="1.4"/>
<text transform="translate(370.6,539.6) scale(0.9650,1)" font-size="20.5" text-anchor="start">f. Left basal ganglia</text>
<path d="M419.9,570.6 V747.15" stroke="#222" stroke-width="1.5" fill="none"/>
<path d="M415.4,746.4 H683.9" stroke="#1e1e1e" stroke-width="1.5" fill="none"/>
<line x1="415.4" y1="571" x2="419.9" y2="571" stroke="#222" stroke-width="1.2"/>
<text transform="translate(414.3,573.6) scale(0.8400,1)" font-size="9.6" text-anchor="end">15</text>
<line x1="415.4" y1="629.47" x2="419.9" y2="629.47" stroke="#222" stroke-width="1.2"/>
<text transform="translate(414.3,632.07) scale(0.8400,1)" font-size="9.6" text-anchor="end">10</text>
<line x1="415.4" y1="687.93" x2="419.9" y2="687.93" stroke="#222" stroke-width="1.2"/>
<text transform="translate(414.3,690.53) scale(0.8400,1)" font-size="9.6" text-anchor="end">5</text>
<text transform="translate(414.3,749) scale(0.8400,1)" font-size="9.6" text-anchor="end">0</text>
<line x1="417.7" y1="582.69" x2="419.9" y2="582.69" stroke="#222" stroke-width="1"/>
<line x1="417.7" y1="594.39" x2="419.9" y2="594.39" stroke="#222" stroke-width="1"/>
<line x1="417.7" y1="606.08" x2="419.9" y2="606.08" stroke="#222" stroke-width="1"/>
<line x1="417.7" y1="617.77" x2="419.9" y2="617.77" stroke="#222" stroke-width="1"/>
<line x1="417.7" y1="641.16" x2="419.9" y2="641.16" stroke="#222" stroke-width="1"/>
<line x1="417.7" y1="652.85" x2="419.9" y2="652.85" stroke="#222" stroke-width="1"/>
<line x1="417.7" y1="664.55" x2="419.9" y2="664.55" stroke="#222" stroke-width="1"/>
<line x1="417.7" y1="676.24" x2="419.9" y2="676.24" stroke="#222" stroke-width="1"/>
<line x1="417.7" y1="699.63" x2="419.9" y2="699.63" stroke="#222" stroke-width="1"/>
<line x1="417.7" y1="711.32" x2="419.9" y2="711.32" stroke="#222" stroke-width="1"/>
<line x1="417.7" y1="723.01" x2="419.9" y2="723.01" stroke="#222" stroke-width="1"/>
<line x1="417.7" y1="734.71" x2="419.9" y2="734.71" stroke="#222" stroke-width="1"/>
<line x1="464.3" y1="746.4" x2="464.3" y2="751" stroke="#1e1e1e" stroke-width="1.1"/>
<text x="464.3" y="764.2" font-size="12" text-anchor="middle">HC</text>
<line x1="552.2" y1="746.4" x2="552.2" y2="751" stroke="#1e1e1e" stroke-width="1.1"/>
<text x="552.2" y="764.2" font-size="12" text-anchor="middle">PD-nRBD</text>
<line x1="640.1" y1="746.4" x2="640.1" y2="751" stroke="#1e1e1e" stroke-width="1.1"/>
<text x="640.1" y="764.2" font-size="12" text-anchor="middle">PD-RBD</text>
<text transform="translate(399.2,658.8) rotate(-90) scale(0.9160,1)" font-size="15" text-anchor="middle">Glx/water (i.u)</text>
<path d="M458.8,569.5 V579.1 M458.8,574.3 H642.7 M642.7,569.5 V579.1" stroke="#262626" stroke-width="1.15" fill="none"/>
<text transform="translate(550.75,569.7) scale(0.9840,1)" font-size="9.6" text-anchor="middle">ns</text>
<path d="M458.8,581.4 V591 M458.8,586.2 H549.6 M549.6,581.4 V591" stroke="#262626" stroke-width="1.15" fill="none"/>
<text transform="translate(504.2,581.6) scale(0.9840,1)" font-size="9.6" text-anchor="middle">ns</text>
<path d="M553.6,592.9 V602.5 M553.6,597.7 H642.7 M642.7,592.9 V602.5" stroke="#262626" stroke-width="1.15" fill="none"/>
<text transform="translate(598.15,593.1) scale(0.9840,1)" font-size="9.6" text-anchor="middle">ns</text>
<path d="M459.7,600.3 L468.9,600.3 C468.82,600.98 468.68,602.93 468.4,604.4 C468.12,605.87 467.3,607.53 467.2,609.1 C467.1,610.67 467.1,612.22 467.8,613.8 C468.5,615.38 470.22,617.02 471.4,618.6 C472.58,620.18 473.73,621.73 474.9,623.3 C476.07,624.87 477.27,626.43 478.4,628 C479.53,629.57 480.87,631.13 481.7,632.7 C482.53,634.27 483.35,635.83 483.4,637.4 C483.45,638.97 481.93,640.53 482,642.1 C482.07,643.67 483.2,645.23 483.8,646.8 C484.4,648.37 485.22,649.92 485.6,651.5 C485.98,653.08 486.5,654.72 486.1,656.3 C485.7,657.88 484.08,659.43 483.2,661 C482.32,662.57 481.5,664.13 480.8,665.7 C480.1,667.27 479.98,668.83 479,670.4 C478.02,671.97 476.47,673.53 474.9,675.1 C473.33,676.67 470.95,678.52 469.6,679.8 C468.25,681.08 467.27,682.3 466.8,682.8 L461.8,682.8 C461.33,682.3 460.35,681.08 459,679.8 C457.65,678.52 455.27,676.67 453.7,675.1 C452.13,673.53 450.58,671.97 449.6,670.4 C448.62,668.83 448.5,667.27 447.8,665.7 C447.1,664.13 446.28,662.57 445.4,661 C444.52,659.43 442.9,657.88 442.5,656.3 C442.1,654.72 442.62,653.08 443,651.5 C443.38,649.92 444.2,648.37 444.8,646.8 C445.4,645.23 446.53,643.67 446.6,642.1 C446.67,640.53 445.15,638.97 445.2,637.4 C445.25,635.83 446.07,634.27 446.9,632.7 C447.73,631.13 449.07,629.57 450.2,628 C451.33,626.43 452.53,624.87 453.7,623.3 C454.87,621.73 456.02,620.18 457.2,618.6 C458.38,617.02 460.1,615.38 460.8,613.8 C461.5,612.22 461.5,610.67 461.4,609.1 C461.3,607.53 460.48,605.87 460.2,604.4 C459.92,602.93 459.78,600.98 459.7,600.3Z" fill="#66a3fb"/>
<line x1="445.3" y1="651.8" x2="483.3" y2="651.8" stroke="#1a0cf5" stroke-width="1.3" stroke-dasharray="3,2.5"/>
<circle fill="#1a0cf5" cx="464.3" cy="600.9" r="1.4"/><circle fill="#1a0cf5" cx="464.3" cy="605.8" r="1.4"/><circle fill="#1a0cf5" cx="464.3" cy="619.5" r="1.4"/><circle fill="#1a0cf5" cx="464.3" cy="626.2" r="1.4"/><circle fill="#1a0cf5" cx="461.9" cy="628.9" r="1.4"/><circle fill="#1a0cf5" cx="466.6" cy="628.9" r="1.4"/><circle fill="#1a0cf5" cx="464.3" cy="631.5" r="1.4"/><circle fill="#1a0cf5" cx="464.3" cy="633.9" r="1.4"/><circle fill="#1a0cf5" cx="464.3" cy="636" r="1.4"/><circle fill="#1a0cf5" cx="457.2" cy="638.8" r="1.4"/><circle fill="#1a0cf5" cx="461.9" cy="638" r="1.4"/><circle fill="#1a0cf5" cx="461.9" cy="640.7" r="1.4"/><circle fill="#1a0cf5" cx="466.6" cy="638.4" r="1.4"/><circle fill="#1a0cf5" cx="466.6" cy="642.1" r="1.4"/><circle fill="#1a0cf5" cx="470.8" cy="639.2" r="1.4"/><circle fill="#1a0cf5" cx="470.8" cy="641.9" r="1.4"/><circle fill="#1a0cf5" cx="457.2" cy="649.4" r="1.4"/><circle fill="#1a0cf5" cx="457.2" cy="652.5" r="1.4"/><circle fill="#1a0cf5" cx="461.9" cy="652.5" r="1.4"/><circle fill="#1a0cf5" cx="466.6" cy="651.3" r="1.4"/><circle fill="#1a0cf5" cx="466.6" cy="653.7" r="1.4"/><circle fill="#1a0cf5" cx="470.8" cy="652.1" r="1.4"/><circle fill="#1a0cf5" cx="470.8" cy="655.7" r="1.4"/><circle fill="#1a0cf5" cx="461.9" cy="655.1" r="1.4"/><circle fill="#1a0cf5" cx="461.9" cy="657.4" r="1.4"/><circle fill="#1a0cf5" cx="461.9" cy="659.8" r="1.4"/><circle fill="#1a0cf5" cx="461.9" cy="662.1" r="1.4"/><circle fill="#1a0cf5" cx="461.9" cy="664.5" r="1.4"/><circle fill="#1a0cf5" cx="461.9" cy="666.6" r="1.4"/><circle fill="#1a0cf5" cx="466.6" cy="658" r="1.4"/><circle fill="#1a0cf5" cx="466.6" cy="661.6" r="1.4"/><circle fill="#1a0cf5" cx="457.2" cy="669.8" r="1.4"/><circle fill="#1a0cf5" cx="466.6" cy="667.4" r="1.4"/><circle fill="#1a0cf5" cx="466.6" cy="670.2" r="1.4"/><circle fill="#1a0cf5" cx="470.8" cy="669.4" r="1.4"/><circle fill="#1a0cf5" cx="464.3" cy="674.2" r="1.4"/><circle fill="#1a0cf5" cx="464.3" cy="682.2" r="1.4"/>
<path d="M548.3,607.6 L555.7,607.6 C555.92,608.22 556.43,609.98 557,611.3 C557.57,612.62 558.4,614.1 559.1,615.5 C559.8,616.9 560.58,618.32 561.2,619.7 C561.82,621.08 562.07,622.42 562.8,623.8 C563.53,625.18 564.35,626.6 565.6,628 C566.85,629.4 569.08,630.8 570.3,632.2 C571.52,633.6 572.35,635 572.9,636.4 C573.45,637.8 574.03,639.2 573.6,640.6 C573.17,642 571.5,643.4 570.3,644.8 C569.1,646.2 567.18,647.6 566.4,649 C565.62,650.4 565.73,651.8 565.6,653.2 C565.47,654.6 565.38,656.02 565.6,657.4 C565.82,658.78 566.4,660.12 566.9,661.5 C567.4,662.88 568.25,664.3 568.6,665.7 C568.95,667.1 569.28,668.5 569,669.9 C568.72,671.3 567.93,672.7 566.9,674.1 C565.87,675.5 563.93,677.08 562.8,678.3 C561.67,679.52 560.55,680.88 560.1,681.4 L543.9,681.4 C543.45,680.88 542.33,679.52 541.2,678.3 C540.07,677.08 538.13,675.5 537.1,674.1 C536.07,672.7 535.28,671.3 535,669.9 C534.72,668.5 535.05,667.1 535.4,665.7 C535.75,664.3 536.6,662.88 537.1,661.5 C537.6,660.12 538.18,658.78 538.4,657.4 C538.62,656.02 538.53,654.6 538.4,653.2 C538.27,651.8 538.38,650.4 537.6,649 C536.82,647.6 534.9,646.2 533.7,644.8 C532.5,643.4 530.83,642 530.4,640.6 C529.97,639.2 530.55,637.8 531.1,636.4 C531.65,635 532.48,633.6 533.7,632.2 C534.92,630.8 537.15,629.4 538.4,628 C539.65,626.6 540.47,625.18 541.2,623.8 C541.93,622.42 542.18,621.08 542.8,619.7 C543.42,618.32 544.2,616.9 544.9,615.5 C545.6,614.1 546.43,612.62 547,611.3 C547.57,609.98 548.08,608.22 548.3,607.6Z" fill="#f7601a"/>
<line x1="536" y1="645.1" x2="568" y2="645.1" stroke="#981010" stroke-width="1.3" stroke-dasharray="3,2.5"/>
<circle fill="#9a1010" cx="552" cy="608.4" r="1.4"/><circle fill="#9a1010" cx="552" cy="617.4" r="1.4"/><circle fill="#9a1010" cx="552" cy="620.5" r="1.4"/><circle fill="#9a1010" cx="547.6" cy="623.3" r="1.4"/><circle fill="#9a1010" cx="552" cy="625.4" r="1.4"/><circle fill="#9a1010" cx="552" cy="629.1" r="1.4"/><circle fill="#9a1010" cx="552" cy="632" r="1.4"/><circle fill="#9a1010" cx="547.6" cy="634.5" r="1.4"/><circle fill="#9a1010" cx="556.5" cy="635.2" r="1.4"/><circle fill="#9a1010" cx="547.6" cy="638.3" r="1.4"/><circle fill="#9a1010" cx="552" cy="636.2" r="1.4"/><circle fill="#9a1010" cx="552" cy="638.5" r="1.4"/><circle fill="#9a1010" cx="552" cy="641.9" r="1.4"/><circle fill="#9a1010" cx="556.5" cy="640.1" r="1.4"/><circle fill="#9a1010" cx="556.5" cy="642.5" r="1.4"/><circle fill="#9a1010" cx="547.6" cy="641.9" r="1.4"/><circle fill="#9a1010" cx="547.6" cy="645.3" r="1.4"/><circle fill="#9a1010" cx="552" cy="645.8" r="1.4"/><circle fill="#9a1010" cx="552" cy="650.9" r="1.4"/><circle fill="#9a1010" cx="547.6" cy="655.8" r="1.4"/><circle fill="#9a1010" cx="552" cy="657.4" r="1.4"/><circle fill="#9a1010" cx="556.5" cy="654.2" r="1.4"/><circle fill="#9a1010" cx="556.5" cy="656.8" r="1.4"/><circle fill="#9a1010" cx="556.5" cy="664.7" r="1.4"/><circle fill="#9a1010" cx="547.6" cy="667" r="1.4"/><circle fill="#9a1010" cx="547.6" cy="670.4" r="1.4"/><circle fill="#9a1010" cx="552" cy="666.8" r="1.4"/><circle fill="#9a1010" cx="552" cy="668.9" r="1.4"/><circle fill="#9a1010" cx="552" cy="672.9" r="1.4"/><circle fill="#9a1010" cx="556.5" cy="671" r="1.4"/><circle fill="#9a1010" cx="556.5" cy="676.4" r="1.4"/><circle fill="#9a1010" cx="552" cy="677.8" r="1.4"/><circle fill="#9a1010" cx="552" cy="681.2" r="1.4"/>
<path d="M624.7,631.9 L654.5,631.9 C655.2,632.33 657.53,633.5 658.7,634.5 C659.87,635.5 661.42,636.77 661.5,637.9 C661.58,639.03 660.23,640.17 659.2,641.3 C658.17,642.43 656.15,643.57 655.3,644.7 C654.45,645.83 654.38,646.97 654.1,648.1 C653.82,649.23 654.03,650.37 653.6,651.5 C653.17,652.63 652.35,653.77 651.5,654.9 C650.65,656.03 649.28,657.17 648.5,658.3 C647.72,659.43 646.87,660.57 646.8,661.7 C646.73,662.83 647.32,663.97 648.1,665.1 C648.88,666.23 650.43,667.37 651.5,668.5 C652.57,669.63 653.72,670.77 654.5,671.9 C655.28,673.03 656.13,674.17 656.2,675.3 C656.27,676.43 655.58,677.7 654.9,678.7 C654.22,679.7 652.57,680.87 652.1,681.3 L627.1,681.3 C626.63,680.87 624.98,679.7 624.3,678.7 C623.62,677.7 622.93,676.43 623,675.3 C623.07,674.17 623.92,673.03 624.7,671.9 C625.48,670.77 626.63,669.63 627.7,668.5 C628.77,667.37 630.32,666.23 631.1,665.1 C631.88,663.97 632.47,662.83 632.4,661.7 C632.33,660.57 631.48,659.43 630.7,658.3 C629.92,657.17 628.55,656.03 627.7,654.9 C626.85,653.77 626.03,652.63 625.6,651.5 C625.17,650.37 625.38,649.23 625.1,648.1 C624.82,646.97 624.75,645.83 623.9,644.7 C623.05,643.57 621.03,642.43 620,641.3 C618.97,640.17 617.62,639.03 617.7,637.9 C617.78,636.77 619.33,635.5 620.5,634.5 C621.67,633.5 624,632.33 624.7,631.9Z" fill="#8e8cfc"/>
<line x1="627.1" y1="650.5" x2="652.1" y2="650.5" stroke="#7a14aa" stroke-width="1.3" stroke-dasharray="3,2.5"/>
<circle fill="#7a12a8" cx="637.5" cy="632.9" r="1.4"/><circle fill="#7a12a8" cx="641.9" cy="633.6" r="1.4"/><circle fill="#7a12a8" cx="632.8" cy="637.4" r="1.4"/><circle fill="#7a12a8" cx="637.5" cy="637.4" r="1.4"/><circle fill="#7a12a8" cx="641.9" cy="637" r="1.4"/><circle fill="#7a12a8" cx="646.4" cy="638.3" r="1.4"/><circle fill="#7a12a8" cx="641.9" cy="640.4" r="1.4"/><circle fill="#7a12a8" cx="637.5" cy="642.6" r="1.4"/><circle fill="#7a12a8" cx="641.9" cy="643" r="1.4"/><circle fill="#7a12a8" cx="637.5" cy="648.8" r="1.4"/><circle fill="#7a12a8" cx="637.5" cy="651.3" r="1.4"/><circle fill="#7a12a8" cx="641.9" cy="649.4" r="1.4"/><circle fill="#7a12a8" cx="637.5" cy="654.7" r="1.4"/><circle fill="#7a12a8" cx="641.9" cy="656.6" r="1.4"/><circle fill="#7a12a8" cx="639.6" cy="664.1" r="1.4"/><circle fill="#7a12a8" cx="639.6" cy="670.2" r="1.4"/><circle fill="#7a12a8" cx="637.5" cy="673.8" r="1.4"/><circle fill="#7a12a8" cx="641.9" cy="672.9" r="1.4"/><circle fill="#7a12a8" cx="637.5" cy="677.7" r="1.4"/><circle fill="#7a12a8" cx="641.9" cy="676.2" r="1.4"/><circle fill="#7a12a8" cx="637.5" cy="680.9" r="1.4"/><circle fill="#7a12a8" cx="641.9" cy="680" r="1.4"/>
</svg>
</body></html>
